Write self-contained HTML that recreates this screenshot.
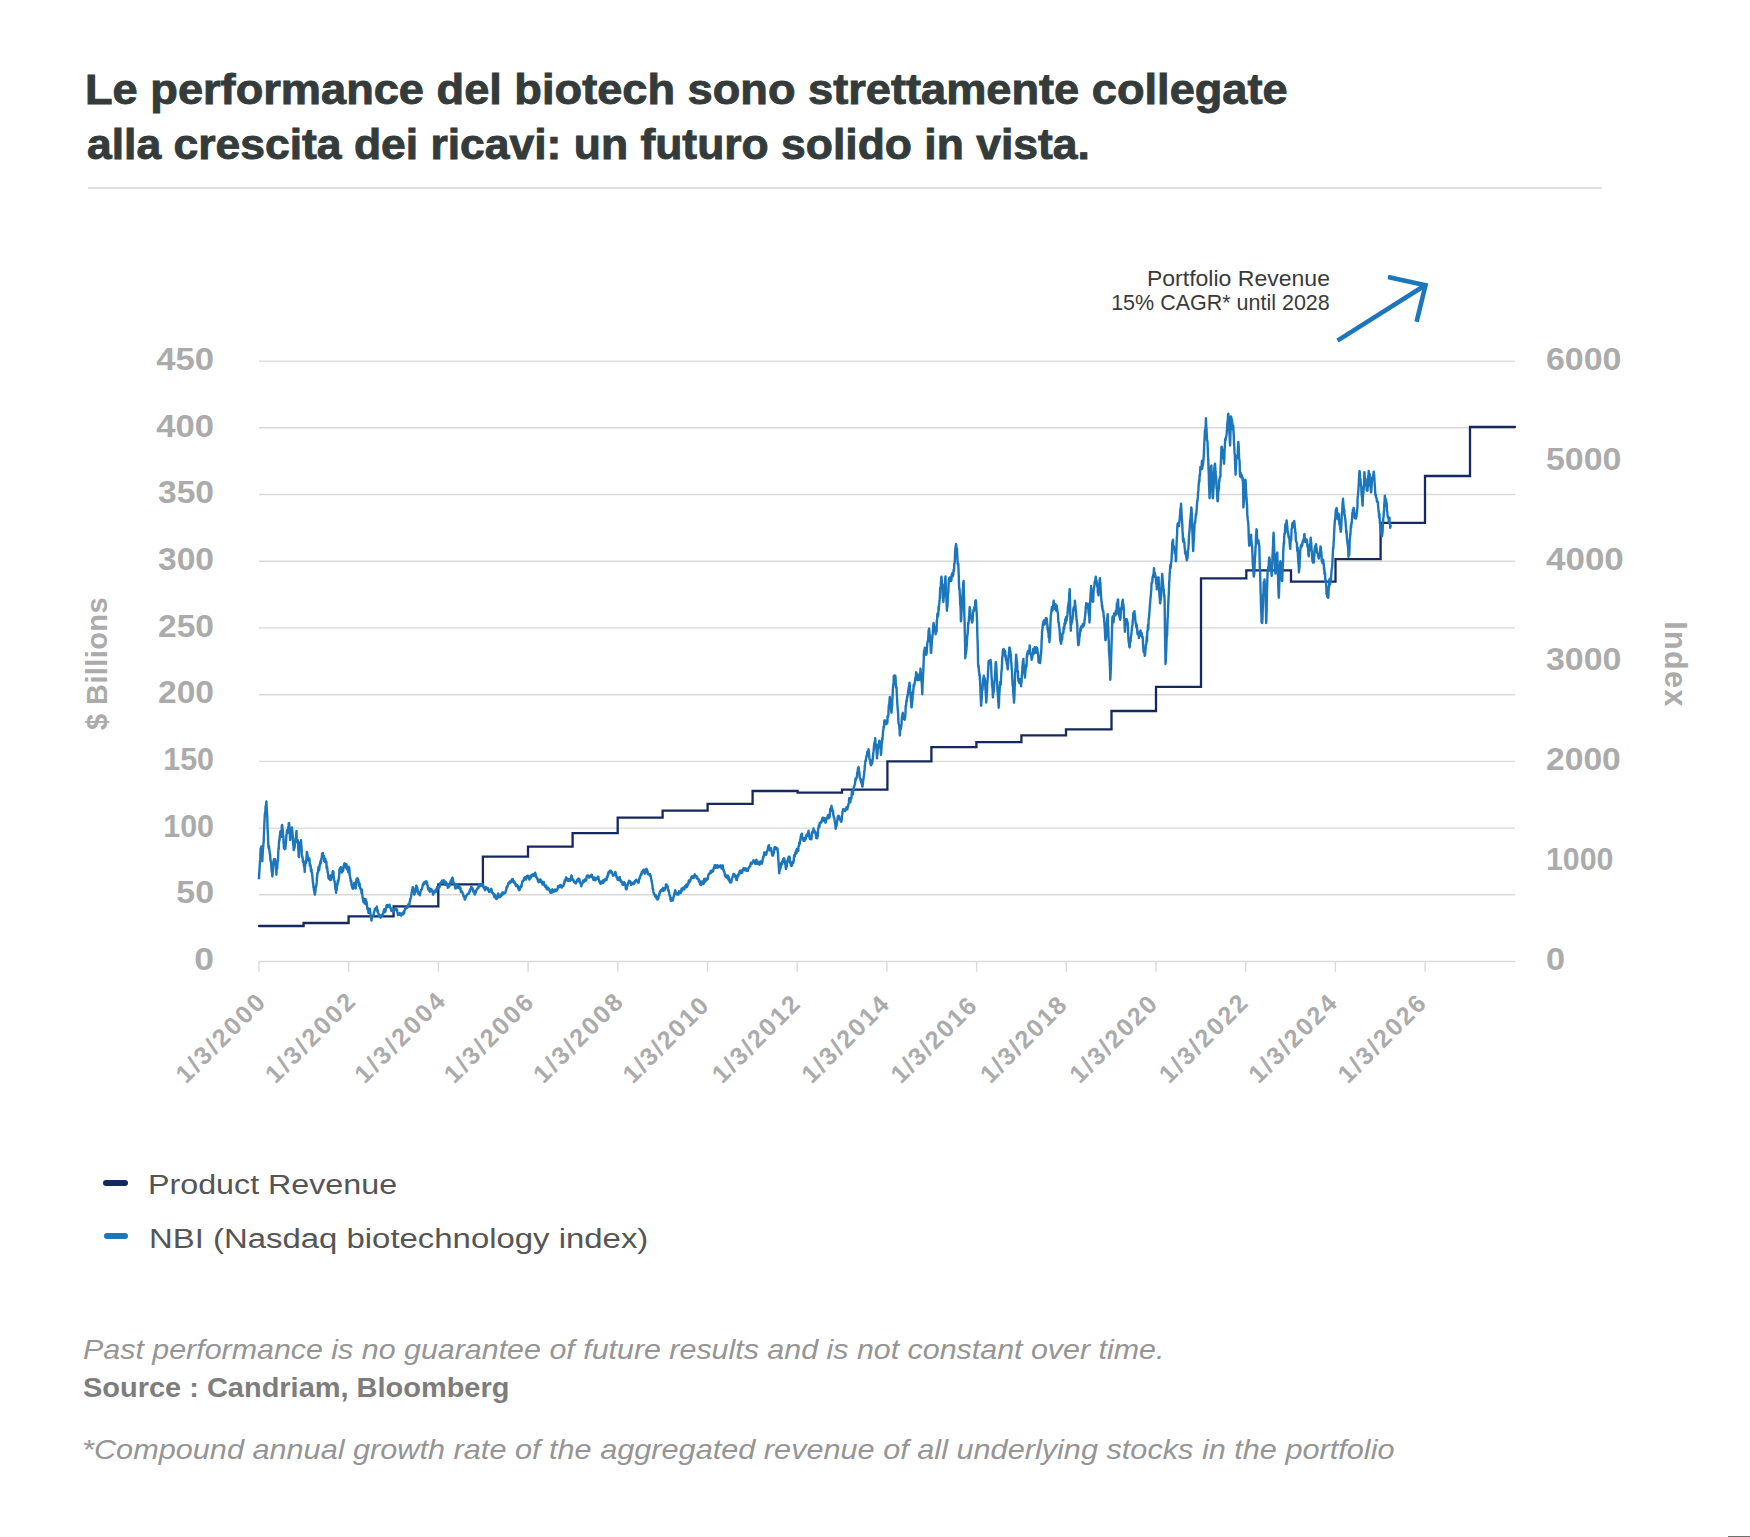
<!DOCTYPE html>
<html><head><meta charset="utf-8">
<style>
html,body{margin:0;padding:0;background:#fff;}
body{width:1750px;height:1537px;position:relative;overflow:hidden;font-family:"Liberation Sans",sans-serif;}
.t{position:absolute;white-space:nowrap;line-height:1;}
.rule{position:absolute;left:88px;top:187px;width:1514px;height:1.5px;background:#dedede;}
.mk{position:absolute;width:25px;height:6px;border-radius:3px;}
</style></head><body>
<div class="rule"></div>
<svg width="1750" height="1537" viewBox="0 0 1750 1537" style="position:absolute;left:0;top:0">
<line x1="259" y1="361.1" x2="1515" y2="361.1" stroke="#d9d9d9" stroke-width="1.4"/>
<line x1="259" y1="427.8" x2="1515" y2="427.8" stroke="#d9d9d9" stroke-width="1.4"/>
<line x1="259" y1="494.5" x2="1515" y2="494.5" stroke="#d9d9d9" stroke-width="1.4"/>
<line x1="259" y1="561.2" x2="1515" y2="561.2" stroke="#d9d9d9" stroke-width="1.4"/>
<line x1="259" y1="627.9" x2="1515" y2="627.9" stroke="#d9d9d9" stroke-width="1.4"/>
<line x1="259" y1="694.7" x2="1515" y2="694.7" stroke="#d9d9d9" stroke-width="1.4"/>
<line x1="259" y1="761.4" x2="1515" y2="761.4" stroke="#d9d9d9" stroke-width="1.4"/>
<line x1="259" y1="828.1" x2="1515" y2="828.1" stroke="#d9d9d9" stroke-width="1.4"/>
<line x1="259" y1="894.8" x2="1515" y2="894.8" stroke="#d9d9d9" stroke-width="1.4"/>
<line x1="259" y1="961.5" x2="1515" y2="961.5" stroke="#d9d9d9" stroke-width="1.4"/>
<line x1="259.0" y1="961.5" x2="259.0" y2="971.8" stroke="#d9d9d9" stroke-width="1.4"/>
<line x1="348.7" y1="961.5" x2="348.7" y2="971.8" stroke="#d9d9d9" stroke-width="1.4"/>
<line x1="438.4" y1="961.5" x2="438.4" y2="971.8" stroke="#d9d9d9" stroke-width="1.4"/>
<line x1="528.1" y1="961.5" x2="528.1" y2="971.8" stroke="#d9d9d9" stroke-width="1.4"/>
<line x1="617.8" y1="961.5" x2="617.8" y2="971.8" stroke="#d9d9d9" stroke-width="1.4"/>
<line x1="707.5" y1="961.5" x2="707.5" y2="971.8" stroke="#d9d9d9" stroke-width="1.4"/>
<line x1="797.2" y1="961.5" x2="797.2" y2="971.8" stroke="#d9d9d9" stroke-width="1.4"/>
<line x1="886.9" y1="961.5" x2="886.9" y2="971.8" stroke="#d9d9d9" stroke-width="1.4"/>
<line x1="976.6" y1="961.5" x2="976.6" y2="971.8" stroke="#d9d9d9" stroke-width="1.4"/>
<line x1="1066.3" y1="961.5" x2="1066.3" y2="971.8" stroke="#d9d9d9" stroke-width="1.4"/>
<line x1="1156.0" y1="961.5" x2="1156.0" y2="971.8" stroke="#d9d9d9" stroke-width="1.4"/>
<line x1="1245.7" y1="961.5" x2="1245.7" y2="971.8" stroke="#d9d9d9" stroke-width="1.4"/>
<line x1="1335.4" y1="961.5" x2="1335.4" y2="971.8" stroke="#d9d9d9" stroke-width="1.4"/>
<line x1="1425.1" y1="961.5" x2="1425.1" y2="971.8" stroke="#d9d9d9" stroke-width="1.4"/>
<g font-family="Liberation Sans" font-weight="bold" font-size="31.5" fill="#ababab">
<text x="214.0" y="970.0" text-anchor="end" textLength="19.7" lengthAdjust="spacingAndGlyphs">0</text>
<text x="214.0" y="903.3" text-anchor="end" textLength="37.7" lengthAdjust="spacingAndGlyphs">50</text>
<text x="214.0" y="836.7" text-anchor="end" textLength="50.7" lengthAdjust="spacingAndGlyphs">100</text>
<text x="214.0" y="770.0" text-anchor="end" textLength="50.7" lengthAdjust="spacingAndGlyphs">150</text>
<text x="214.0" y="703.3" text-anchor="end" textLength="56.0" lengthAdjust="spacingAndGlyphs">200</text>
<text x="214.0" y="636.7" text-anchor="end" textLength="56.0" lengthAdjust="spacingAndGlyphs">250</text>
<text x="214.0" y="570.0" text-anchor="end" textLength="56.0" lengthAdjust="spacingAndGlyphs">300</text>
<text x="214.0" y="503.3" text-anchor="end" textLength="56.0" lengthAdjust="spacingAndGlyphs">350</text>
<text x="214.0" y="436.7" text-anchor="end" textLength="57.8" lengthAdjust="spacingAndGlyphs">400</text>
<text x="214.0" y="370.0" text-anchor="end" textLength="57.8" lengthAdjust="spacingAndGlyphs">450</text>
<text x="1546.0" y="970.0" textLength="19.1" lengthAdjust="spacingAndGlyphs">0</text>
<text x="1546.0" y="870.0" textLength="67.5" lengthAdjust="spacingAndGlyphs">1000</text>
<text x="1546.0" y="770.0" textLength="74.8" lengthAdjust="spacingAndGlyphs">2000</text>
<text x="1546.0" y="670.0" textLength="75.4" lengthAdjust="spacingAndGlyphs">3000</text>
<text x="1546.0" y="570.0" textLength="77.8" lengthAdjust="spacingAndGlyphs">4000</text>
<text x="1546.0" y="470.0" textLength="75.4" lengthAdjust="spacingAndGlyphs">5000</text>
<text x="1546.0" y="370.0" textLength="75.4" lengthAdjust="spacingAndGlyphs">6000</text>
</g>
<text font-family="Liberation Sans" font-weight="bold" font-size="29" fill="#ababab" letter-spacing="0.4" text-anchor="middle" transform="translate(106.6 663.5) rotate(-90)">$ Billions</text>
<text font-family="Liberation Sans" font-weight="bold" font-size="30.5" fill="#ababab" letter-spacing="1.4" text-anchor="middle" transform="translate(1665 664.5) rotate(90)">Index</text>
<g font-family="Liberation Sans" font-weight="bold" font-size="25" fill="#ababab">
<text transform="translate(186.07 1084.60) rotate(-45)" textLength="113.70" lengthAdjust="spacing">1/3/2000</text>
<text transform="translate(275.45 1084.60) rotate(-45)" textLength="114.69" lengthAdjust="spacing">1/3/2002</text>
<text transform="translate(364.83 1084.60) rotate(-45)" textLength="115.68" lengthAdjust="spacing">1/3/2004</text>
<text transform="translate(454.21 1084.60) rotate(-45)" textLength="113.85" lengthAdjust="spacing">1/3/2006</text>
<text transform="translate(543.59 1084.60) rotate(-45)" textLength="114.13" lengthAdjust="spacing">1/3/2008</text>
<text transform="translate(632.97 1084.60) rotate(-45)" textLength="109.04" lengthAdjust="spacing">1/3/2010</text>
<text transform="translate(722.35 1084.60) rotate(-45)" textLength="111.58" lengthAdjust="spacing">1/3/2012</text>
<text transform="translate(811.73 1084.60) rotate(-45)" textLength="111.02" lengthAdjust="spacing">1/3/2014</text>
<text transform="translate(901.11 1084.60) rotate(-45)" textLength="108.75" lengthAdjust="spacing">1/3/2016</text>
<text transform="translate(990.49 1084.60) rotate(-45)" textLength="109.89" lengthAdjust="spacing">1/3/2018</text>
<text transform="translate(1079.87 1084.60) rotate(-45)" textLength="111.44" lengthAdjust="spacing">1/3/2020</text>
<text transform="translate(1169.25 1084.60) rotate(-45)" textLength="113.00" lengthAdjust="spacing">1/3/2022</text>
<text transform="translate(1258.63 1084.60) rotate(-45)" textLength="112.71" lengthAdjust="spacing">1/3/2024</text>
<text transform="translate(1348.01 1084.60) rotate(-45)" textLength="112.29" lengthAdjust="spacing">1/3/2026</text>
</g>
<path d="M259.0 926.0 H303.6 V923.0 H348.6 V916.4 H393.6 V906.4 H438.3 V884.3 H482.9 V856.7 H528.0 V846.7 H572.6 V833.1 H617.7 V817.6 H662.6 V810.7 H707.6 V803.8 H752.6 V791.0 H797.6 V792.7 H842.0 V789.7 H887.4 V761.4 H931.4 V747.2 H976.4 V742.1 H1021.4 V735.3 H1066.0 V729.4 H1111.5 V711.0 H1156.0 V686.8 H1201.0 V578.4 H1246.3 V570.3 H1291.0 V581.7 H1335.5 V559.2 H1380.6 V522.8 H1425.0 V476.0 H1470.0 V427.0 H1515.0 V427.0" fill="none" stroke="#16295c" stroke-width="2.3" stroke-linejoin="miter" stroke-linecap="round"/>
<path d="M258.9 879.3L259.2 874.2L259.5 869.0L259.7 866.4L260.0 861.1L260.3 859.4L260.6 848.5L260.8 849.7L261.1 848.8L261.4 846.5L261.6 847.9L261.8 854.8L262.1 858.7L262.3 861.1L262.6 855.5L262.8 851.0L263.1 848.1L263.4 844.5L263.7 841.0L263.9 835.2L264.1 830.7L264.3 825.1L264.6 819.2L264.8 814.9L265.1 812.9L265.4 811.2L265.6 806.3L265.9 807.9L266.1 803.4L266.4 801.4L266.6 806.8L266.9 810.8L267.1 814.4L267.3 817.3L267.5 828.3L267.8 831.7L268.0 835.5L268.2 842.8L268.5 847.3L268.8 848.5L269.0 846.1L269.3 849.8L269.6 851.9L269.9 854.4L270.1 854.3L270.4 859.5L270.7 861.7L271.0 861.1L271.2 863.4L271.5 869.5L271.8 872.0L272.0 871.1L272.3 876.5L272.6 874.0L272.9 871.2L273.1 863.8L273.4 864.7L273.7 861.1L274.0 859.2L274.2 862.0L274.5 863.7L274.8 861.0L275.1 859.2L275.3 862.5L275.6 865.4L275.9 868.1L276.1 869.8L276.4 874.7L276.7 868.2L276.9 867.2L277.2 868.5L277.5 862.6L277.7 860.7L278.0 860.9L278.2 853.8L278.5 848.1L278.8 848.8L279.0 841.0L279.3 839.5L279.5 840.5L279.8 835.5L280.1 835.5L280.3 831.4L280.6 834.9L280.8 832.9L281.1 833.8L281.3 836.9L281.6 832.9L281.8 825.5L282.1 824.9L282.3 826.4L282.6 830.3L282.8 830.1L283.1 834.7L283.4 836.6L283.6 842.3L283.9 847.5L284.1 848.2L284.4 846.7L284.6 849.2L284.9 846.3L285.1 848.1L285.4 848.6L285.7 844.6L285.9 843.2L286.2 838.6L286.4 835.5L286.7 833.9L286.9 830.7L287.2 830.1L287.5 833.0L287.7 831.1L288.0 830.0L288.2 827.6L288.5 825.9L288.7 823.7L289.0 823.1L289.3 824.4L289.5 829.0L289.8 832.7L290.1 840.1L290.3 839.9L290.6 835.9L290.9 835.2L291.1 833.7L291.4 832.4L291.6 829.8L291.9 827.4L292.2 829.8L292.4 833.0L292.7 835.7L292.9 837.3L293.2 844.6L293.5 845.2L293.7 850.1L294.0 844.2L294.2 848.6L294.5 847.4L294.7 846.6L295.0 841.3L295.2 842.8L295.5 840.0L295.7 838.3L296.0 841.6L296.2 833.1L296.5 831.0L296.7 838.4L297.0 842.1L297.2 840.8L297.5 839.7L297.7 840.4L298.0 842.2L298.2 848.2L298.5 851.9L298.7 856.5L299.0 857.1L299.2 849.9L299.5 846.0L299.8 850.3L300.0 845.5L300.3 842.1L300.5 843.7L300.8 842.6L301.0 840.1L301.3 844.9L301.6 847.8L301.8 853.4L302.1 856.3L302.4 857.4L302.6 857.2L302.9 862.1L303.1 860.8L303.4 861.5L303.6 861.5L303.9 865.6L304.2 867.1L304.4 865.6L304.7 872.0L304.9 867.7L305.2 865.5L305.4 861.9L305.7 862.8L305.9 861.1L306.2 862.9L306.4 858.2L306.7 854.5L306.9 851.9L307.2 852.6L307.4 854.7L307.7 857.4L307.9 856.8L308.2 857.3L308.4 859.0L308.7 860.8L308.9 859.6L309.2 861.4L309.4 858.4L309.7 862.9L309.9 865.8L310.2 864.5L310.4 865.0L310.7 866.3L310.9 869.5L311.2 871.6L311.4 869.3L311.7 871.3L311.9 872.0L312.2 875.0L312.4 876.5L312.7 879.8L312.9 882.7L313.2 882.8L313.4 887.4L313.7 887.3L313.9 889.9L314.2 891.1L314.4 889.9L314.7 893.9L314.9 894.6L315.2 892.6L315.4 891.7L315.7 886.4L315.9 887.3L316.2 886.3L316.4 885.0L316.7 882.9L316.9 877.6L317.2 876.4L317.4 872.9L317.7 872.6L317.9 873.0L318.2 869.4L318.5 867.0L318.7 868.6L319.0 869.2L319.2 870.2L319.5 866.2L319.7 864.4L320.0 865.1L320.2 863.0L320.5 861.3L320.8 862.3L321.0 863.0L321.3 859.5L321.5 858.3L321.8 857.9L322.1 853.6L322.3 856.9L322.6 855.3L322.9 852.9L323.2 856.6L323.4 857.2L323.7 857.0L324.0 856.0L324.2 861.1L324.5 859.8L324.8 859.6L325.1 862.0L325.3 858.7L325.6 862.0L325.9 861.4L326.1 861.3L326.4 861.9L326.6 867.6L326.9 868.8L327.1 866.8L327.4 869.9L327.6 871.8L327.8 873.0L328.1 873.3L328.3 876.5L328.6 878.6L328.9 878.7L329.1 877.8L329.4 879.3L329.6 878.8L329.9 877.2L330.2 879.3L330.4 880.1L330.7 875.4L330.9 878.2L331.2 879.9L331.4 875.4L331.7 875.1L331.9 877.1L332.2 876.5L332.4 874.2L332.7 871.4L332.9 871.1L333.1 871.2L333.4 871.9L333.6 875.8L333.9 877.9L334.1 879.4L334.4 880.8L334.6 881.7L334.9 883.4L335.1 885.2L335.4 889.2L335.6 887.0L335.8 890.2L336.1 892.9L336.3 888.9L336.6 890.0L336.8 888.6L337.1 883.8L337.3 885.2L337.6 883.8L337.8 880.8L338.1 882.3L338.3 881.9L338.5 879.5L338.8 879.0L339.0 876.8L339.3 873.8L339.5 869.1L339.8 869.9L340.0 868.1L340.3 868.1L340.5 869.6L340.8 867.1L341.0 867.8L341.3 869.8L341.5 870.0L341.8 872.5L342.0 871.1L342.3 868.6L342.5 867.9L342.7 870.4L343.0 871.1L343.2 870.6L343.5 867.7L343.7 865.6L344.0 865.0L344.2 863.8L344.5 863.3L344.7 866.2L345.0 865.6L345.2 864.7L345.5 865.8L345.7 866.0L346.0 867.8L346.2 864.1L346.5 864.4L346.7 866.4L347.0 869.5L347.2 869.1L347.5 868.3L347.7 867.5L348.0 868.9L348.2 872.3L348.5 868.1L348.7 866.7L349.0 867.6L349.2 867.7L349.5 870.5L349.7 875.2L350.0 876.2L350.2 878.4L350.5 878.3L350.7 881.5L351.0 880.9L351.2 880.3L351.5 884.4L351.7 885.1L351.9 886.3L352.2 887.7L352.4 886.9L352.7 886.1L352.9 888.8L353.2 888.4L353.5 887.8L353.7 887.0L354.0 883.3L354.2 884.4L354.5 883.0L354.8 883.8L355.0 885.3L355.3 886.8L355.5 886.7L355.7 888.6L356.0 884.3L356.2 881.9L356.5 879.0L356.7 878.8L357.0 878.9L357.2 878.5L357.5 878.2L357.7 881.5L358.0 879.3L358.2 879.6L358.5 881.5L358.7 883.6L359.0 885.8L359.2 882.6L359.5 883.6L359.7 884.6L360.0 887.0L360.2 888.4L360.5 888.1L360.7 889.2L361.0 889.1L361.2 890.2L361.5 893.2L361.7 890.1L362.0 889.5L362.2 894.0L362.5 895.9L362.7 898.3L363.0 898.4L363.2 900.3L363.5 902.1L363.7 900.6L364.0 899.8L364.2 898.9L364.5 903.5L364.7 901.6L365.0 902.1L365.2 901.9L365.4 902.0L365.7 899.3L365.9 900.8L366.2 904.6L366.4 905.0L366.7 902.2L366.9 903.8L367.2 907.4L367.4 909.2L367.6 909.3L367.9 908.2L368.1 909.2L368.4 912.9L368.6 911.3L368.9 911.4L369.1 912.6L369.3 912.1L369.6 909.2L369.8 908.7L370.0 910.2L370.2 912.6L370.5 914.0L370.7 915.6L371.0 917.9L371.2 918.5L371.5 920.6L371.8 917.8L372.0 918.1L372.3 916.6L372.5 916.3L372.8 916.3L373.1 915.4L373.3 915.4L373.6 915.7L373.9 912.3L374.1 912.1L374.4 911.3L374.6 910.8L374.9 909.0L375.1 909.6L375.4 908.6L375.7 908.3L375.9 907.9L376.2 907.7L376.4 908.7L376.7 907.2L376.9 906.6L377.2 909.8L377.4 911.9L377.7 911.0L377.9 910.3L378.2 912.4L378.4 913.5L378.7 913.9L378.9 915.1L379.2 916.0L379.4 915.1L379.7 916.5L379.9 915.9L380.2 915.7L380.4 916.7L380.6 917.9L380.9 915.1L381.1 916.9L381.4 915.3L381.6 916.0L381.9 914.9L382.1 915.8L382.4 915.1L382.6 914.7L382.9 913.6L383.1 913.5L383.4 913.4L383.6 910.8L383.9 910.5L384.1 909.5L384.4 909.3L384.6 910.0L384.9 910.9L385.1 912.1L385.4 910.6L385.6 911.1L385.9 908.0L386.1 908.2L386.4 906.6L386.6 905.3L386.9 906.7L387.2 905.7L387.4 905.9L387.7 905.1L387.9 906.8L388.2 906.3L388.4 905.4L388.7 905.9L388.9 905.3L389.2 905.9L389.5 904.6L389.7 906.7L390.0 906.6L390.2 907.3L390.5 907.6L390.8 909.1L391.0 909.4L391.3 910.9L391.5 909.4L391.8 909.4L392.0 910.3L392.3 910.7L392.5 910.1L392.8 910.7L393.0 912.1L393.3 909.5L393.5 911.4L393.8 909.3L394.0 910.2L394.3 909.7L394.5 908.7L394.8 909.7L395.0 908.6L395.3 910.1L395.5 908.9L395.8 908.9L396.0 908.8L396.3 909.6L396.5 909.3L396.7 909.1L397.0 910.3L397.2 910.3L397.5 913.5L397.7 913.5L398.0 915.1L398.2 913.9L398.5 913.5L398.7 914.6L399.0 914.9L399.2 914.9L399.5 913.4L399.7 913.1L400.0 913.9L400.2 914.0L400.5 915.0L400.7 914.8L401.0 914.9L401.2 915.6L401.5 913.7L401.7 913.6L401.9 913.9L402.2 913.9L402.4 913.4L402.7 912.7L402.9 914.6L403.2 913.2L403.4 914.1L403.7 912.7L403.9 911.2L404.2 913.1L404.4 910.5L404.7 910.3L404.9 909.4L405.2 907.9L405.4 907.6L405.7 907.7L405.9 908.2L406.2 908.4L406.4 907.1L406.7 907.5L406.9 907.4L407.1 907.9L407.4 907.3L407.6 907.5L407.9 906.8L408.1 904.5L408.4 904.9L408.6 904.6L408.9 903.9L409.1 904.1L409.4 904.9L409.6 902.5L409.9 900.7L410.1 900.5L410.4 898.6L410.6 898.7L410.9 897.5L411.2 895.4L411.4 893.9L411.7 892.3L411.9 891.2L412.2 889.0L412.5 888.5L412.7 887.1L413.0 888.4L413.2 888.4L413.5 891.6L413.7 891.5L414.0 892.0L414.2 894.6L414.5 894.1L414.7 893.7L414.9 890.8L415.2 892.1L415.4 891.0L415.7 887.9L416.0 886.8L416.2 885.7L416.5 885.6L416.8 887.6L417.0 887.8L417.3 887.4L417.5 890.1L417.8 891.4L418.0 893.4L418.3 893.3L418.5 892.9L418.8 892.4L419.0 894.0L419.3 894.3L419.5 893.9L419.8 895.3L420.0 893.8L420.3 893.5L420.5 891.6L420.8 890.9L421.0 890.1L421.3 889.9L421.5 889.3L421.8 889.4L422.0 888.6L422.3 887.3L422.5 886.6L422.7 884.8L423.0 885.2L423.2 883.8L423.5 884.3L423.7 883.1L424.0 882.6L424.2 883.1L424.5 884.1L424.7 883.2L425.0 881.9L425.2 882.3L425.5 881.6L425.7 882.4L426.0 882.5L426.2 881.2L426.5 882.4L426.7 883.1L427.0 882.4L427.2 884.6L427.5 884.7L427.7 886.2L427.9 887.9L428.2 889.3L428.4 887.9L428.7 890.4L428.9 889.7L429.2 889.2L429.4 888.1L429.7 889.6L429.9 891.8L430.2 890.1L430.4 891.3L430.7 890.3L430.9 889.1L431.2 889.4L431.4 889.1L431.7 891.2L431.9 890.5L432.2 890.2L432.4 891.7L432.7 891.8L432.9 894.5L433.2 894.6L433.4 893.8L433.6 892.0L433.9 891.5L434.1 892.0L434.4 891.6L434.6 892.0L434.9 892.1L435.1 892.2L435.4 891.6L435.6 890.0L435.9 891.8L436.1 891.7L436.4 889.6L436.6 888.4L436.9 889.1L437.1 886.9L437.4 888.1L437.6 887.2L437.9 887.5L438.1 887.5L438.4 888.6L438.6 888.0L438.8 887.4L439.1 886.7L439.3 886.4L439.6 887.2L439.8 885.8L440.1 883.4L440.3 883.2L440.6 882.7L440.8 882.7L441.1 882.3L441.3 881.8L441.6 882.5L441.8 881.4L442.1 880.6L442.3 882.5L442.6 880.9L442.8 881.0L443.1 881.6L443.3 882.0L443.6 880.5L443.8 880.2L444.0 881.1L444.3 883.0L444.5 881.0L444.8 883.3L445.0 883.4L445.3 885.0L445.5 883.7L445.8 883.7L446.0 883.1L446.3 882.3L446.5 883.8L446.8 883.8L447.0 884.4L447.3 884.1L447.5 885.8L447.8 887.7L448.0 887.1L448.3 887.4L448.5 887.4L448.8 886.1L449.0 884.1L449.2 885.6L449.5 886.0L449.7 884.5L450.0 883.2L450.2 883.1L450.5 881.8L450.7 881.1L451.0 880.9L451.2 882.1L451.5 879.4L451.7 878.9L452.0 879.8L452.2 878.2L452.5 877.5L452.7 878.1L453.0 879.3L453.2 881.4L453.5 882.0L453.7 882.9L454.0 883.4L454.2 882.9L454.4 884.7L454.7 884.5L454.9 886.8L455.2 887.7L455.4 888.5L455.7 888.3L455.9 888.1L456.2 887.2L456.4 887.5L456.7 888.1L456.9 887.1L457.2 886.0L457.4 884.4L457.7 886.4L457.9 885.5L458.2 887.0L458.4 886.8L458.7 886.5L458.9 888.1L459.2 887.1L459.4 886.5L459.6 887.1L459.9 889.0L460.1 887.5L460.4 887.6L460.6 890.1L460.9 891.7L461.1 891.1L461.4 892.3L461.6 891.2L461.9 891.7L462.1 891.6L462.4 892.7L462.6 893.0L462.9 893.5L463.1 894.2L463.4 896.1L463.6 895.7L463.9 896.3L464.1 897.4L464.4 896.5L464.6 898.2L464.8 899.6L465.1 899.0L465.3 898.6L465.6 897.8L465.8 897.1L466.1 895.7L466.3 896.0L466.6 895.4L466.8 895.6L467.1 894.8L467.3 894.6L467.6 893.8L467.8 893.7L468.1 894.0L468.3 893.5L468.6 893.4L468.8 893.7L469.1 893.1L469.3 892.8L469.6 890.7L469.8 890.1L470.0 891.3L470.3 889.4L470.5 889.0L470.8 889.3L471.0 887.9L471.3 886.6L471.5 887.8L471.8 888.4L472.0 888.9L472.3 889.5L472.5 888.0L472.8 889.0L473.0 890.1L473.3 891.9L473.5 890.9L473.8 891.1L474.0 891.8L474.3 892.3L474.5 893.8L474.8 894.6L475.0 894.2L475.3 893.4L475.5 890.7L475.7 892.8L476.0 891.4L476.2 890.1L476.5 890.4L476.7 890.3L477.0 889.2L477.2 888.6L477.5 888.3L477.7 888.6L478.0 887.6L478.2 887.8L478.5 887.8L478.7 886.1L479.0 884.2L479.2 886.2L479.5 886.2L479.7 885.7L480.0 885.5L480.2 886.1L480.5 883.9L480.7 884.8L480.9 886.0L481.2 885.9L481.4 884.6L481.7 885.6L481.9 884.6L482.2 884.9L482.4 883.9L482.7 884.5L482.9 884.4L483.2 885.3L483.4 887.3L483.7 887.1L483.9 888.4L484.2 887.9L484.5 888.4L484.7 888.4L485.0 890.2L485.2 888.0L485.5 887.0L485.7 887.1L486.0 888.0L486.2 887.7L486.5 888.0L486.7 887.5L487.0 888.1L487.2 888.6L487.5 888.3L487.7 889.9L488.0 888.1L488.2 889.2L488.5 889.9L488.7 890.9L489.0 892.0L489.2 890.4L489.5 890.5L489.7 891.7L490.0 890.0L490.2 890.5L490.5 890.4L490.8 890.1L491.0 889.1L491.2 888.8L491.5 889.1L491.8 890.9L492.0 892.3L492.2 892.6L492.5 893.3L492.8 893.0L493.0 892.7L493.2 893.2L493.5 894.4L493.8 894.7L494.0 895.7L494.2 896.8L494.5 895.2L494.8 894.5L495.0 896.4L495.2 896.0L495.5 897.9L495.7 898.1L496.0 898.7L496.2 898.4L496.5 898.0L496.7 899.0L497.0 898.6L497.2 897.2L497.5 895.1L497.7 895.8L498.0 895.4L498.2 893.4L498.5 897.4L498.7 897.0L499.0 895.9L499.2 897.0L499.5 897.2L499.7 897.1L499.9 895.4L500.2 897.0L500.4 894.9L500.7 894.5L500.9 895.0L501.2 896.2L501.4 894.3L501.7 894.1L501.9 894.6L502.2 894.8L502.4 892.4L502.7 892.5L503.0 892.4L503.2 894.2L503.5 892.6L503.7 893.1L504.0 893.4L504.2 893.5L504.5 892.6L504.7 892.5L505.0 892.9L505.3 892.8L505.5 892.1L505.8 891.2L506.0 890.0L506.3 889.8L506.5 887.4L506.8 887.8L507.0 886.4L507.3 887.2L507.6 885.6L507.8 885.7L508.1 884.1L508.3 883.5L508.6 882.9L508.8 883.2L509.1 883.4L509.3 882.2L509.6 882.8L509.8 881.5L510.1 882.9L510.3 882.1L510.6 882.5L510.8 881.3L511.1 882.2L511.3 880.8L511.6 880.6L511.8 879.5L512.0 881.0L512.3 879.0L512.5 880.5L512.8 879.1L513.0 881.4L513.3 881.1L513.5 882.2L513.8 882.7L514.0 881.5L514.3 881.4L514.5 882.9L514.8 882.8L515.0 882.8L515.3 883.7L515.5 884.7L515.8 885.1L516.1 886.1L516.3 884.4L516.6 885.1L516.8 886.2L517.1 886.2L517.3 885.1L517.6 886.6L517.8 885.9L518.1 886.6L518.3 889.0L518.6 888.6L518.8 889.7L519.1 890.2L519.3 889.2L519.6 889.6L519.8 889.7L520.1 886.6L520.3 887.8L520.6 887.7L520.8 886.6L521.1 885.5L521.3 887.0L521.6 886.3L521.8 883.9L522.1 882.9L522.4 881.6L522.6 880.7L522.9 881.4L523.1 881.0L523.3 881.0L523.6 880.2L523.8 880.3L524.1 880.0L524.3 878.0L524.6 879.2L524.8 878.5L525.1 877.1L525.3 877.7L525.6 878.4L525.8 879.0L526.1 879.5L526.3 877.3L526.6 878.2L526.8 876.0L527.0 876.3L527.3 875.8L527.5 877.0L527.8 875.7L528.0 876.3L528.3 877.0L528.5 877.5L528.8 876.7L529.0 877.8L529.3 879.5L529.5 877.6L529.8 877.8L530.0 878.6L530.2 878.6L530.5 876.0L530.7 877.5L531.0 877.5L531.2 876.7L531.5 876.6L531.7 874.8L532.0 874.7L532.2 875.5L532.5 874.8L532.7 875.1L533.0 875.6L533.2 874.0L533.5 875.9L533.7 875.4L534.0 874.6L534.2 875.4L534.5 874.2L534.7 875.8L535.0 874.4L535.2 872.6L535.5 874.3L535.7 874.3L536.0 877.0L536.2 876.3L536.5 876.8L536.7 878.2L537.0 878.3L537.2 878.1L537.5 879.4L537.7 879.2L538.0 881.1L538.2 881.2L538.5 881.5L538.7 882.4L539.0 880.4L539.2 880.2L539.5 879.8L539.7 881.5L540.0 880.0L540.2 880.6L540.5 879.5L540.7 879.9L541.0 882.1L541.2 882.0L541.5 882.7L541.7 881.1L542.0 883.0L542.2 883.3L542.5 884.6L542.7 883.3L543.0 882.1L543.2 883.6L543.5 882.0L543.7 883.8L544.0 882.3L544.2 883.9L544.5 885.5L544.7 885.6L545.0 886.6L545.2 886.0L545.5 885.8L545.7 887.1L546.0 885.6L546.2 885.5L546.5 887.9L546.7 889.2L546.9 887.9L547.2 888.6L547.4 889.3L547.7 888.8L547.9 889.1L548.2 887.7L548.4 888.4L548.7 889.2L548.9 889.7L549.2 889.1L549.4 889.6L549.7 890.6L549.9 889.9L550.1 890.2L550.4 892.8L550.6 891.8L550.9 892.7L551.1 892.3L551.4 891.3L551.6 890.6L551.9 892.7L552.1 890.7L552.4 889.3L552.6 891.2L552.9 890.7L553.1 890.2L553.3 890.5L553.6 890.4L553.8 891.7L554.1 891.1L554.3 890.0L554.6 890.3L554.8 890.4L555.1 889.6L555.3 890.3L555.6 890.3L555.8 891.3L556.1 889.7L556.3 889.7L556.6 889.6L556.8 890.5L557.0 889.1L557.3 889.8L557.5 888.9L557.8 887.5L558.0 886.1L558.3 887.4L558.5 887.0L558.8 886.6L559.0 886.8L559.3 887.1L559.5 885.5L559.8 886.4L560.0 886.4L560.2 885.4L560.5 884.9L560.7 885.9L561.0 885.3L561.2 887.3L561.5 886.9L561.7 886.4L562.0 887.6L562.2 886.6L562.5 886.6L562.7 886.5L563.0 886.0L563.2 885.5L563.5 885.8L563.7 884.3L564.0 883.0L564.2 883.8L564.5 882.1L564.7 880.1L565.0 881.7L565.2 881.0L565.5 880.6L565.7 878.6L566.0 877.8L566.2 877.3L566.5 877.9L566.7 878.8L566.9 879.8L567.2 879.3L567.4 879.7L567.7 880.6L567.9 879.1L568.2 880.9L568.4 880.4L568.7 879.3L568.9 879.0L569.2 880.4L569.4 879.1L569.7 879.2L569.9 880.1L570.1 880.9L570.4 880.4L570.6 879.0L570.9 878.4L571.1 877.2L571.4 875.5L571.6 877.0L571.9 875.9L572.1 878.8L572.4 878.7L572.6 880.0L572.9 880.0L573.1 880.2L573.4 879.7L573.6 880.5L573.9 882.1L574.1 881.5L574.3 882.0L574.6 882.4L574.8 882.1L575.1 881.9L575.3 883.4L575.6 882.3L575.8 882.7L576.1 883.3L576.3 882.4L576.6 881.5L576.8 881.8L577.1 880.0L577.3 880.7L577.6 880.7L577.8 880.4L578.1 878.6L578.3 879.2L578.6 878.6L578.8 879.0L579.1 878.9L579.4 879.0L579.6 882.1L579.9 881.2L580.1 883.2L580.4 883.0L580.6 883.8L580.9 883.5L581.2 886.4L581.4 885.7L581.7 884.9L581.9 884.2L582.2 884.1L582.4 883.1L582.7 882.8L582.9 882.1L583.2 880.5L583.4 881.5L583.7 881.3L583.9 880.8L584.2 881.7L584.4 880.9L584.7 880.6L584.9 879.5L585.2 879.4L585.4 879.5L585.7 880.0L585.9 880.7L586.1 880.4L586.4 879.2L586.6 876.4L586.9 876.4L587.1 875.7L587.4 875.8L587.6 876.1L587.9 875.7L588.1 875.8L588.4 875.5L588.6 876.9L588.9 876.9L589.1 877.7L589.4 877.2L589.6 876.4L589.9 876.5L590.1 876.2L590.3 875.7L590.6 875.5L590.8 875.7L591.1 875.2L591.3 875.6L591.6 876.9L591.8 874.8L592.1 876.0L592.3 876.3L592.6 877.4L592.8 878.2L593.1 878.4L593.3 879.9L593.5 878.6L593.8 879.6L594.0 878.4L594.3 878.6L594.5 877.5L594.8 879.4L595.0 880.2L595.3 880.2L595.5 878.9L595.8 878.7L596.0 879.4L596.3 879.2L596.5 879.3L596.8 878.3L597.0 878.6L597.3 878.8L597.5 878.1L597.8 876.8L598.0 877.3L598.3 876.8L598.5 877.7L598.8 879.2L599.0 880.4L599.3 881.8L599.5 880.9L599.8 881.9L600.0 882.9L600.3 883.7L600.5 883.8L600.8 882.0L601.0 882.7L601.3 883.6L601.5 882.2L601.8 883.3L602.0 882.8L602.3 882.5L602.5 880.8L602.8 880.5L603.0 880.7L603.3 882.8L603.5 880.7L603.8 881.1L604.0 880.0L604.3 879.7L604.5 881.2L604.8 879.8L605.0 879.2L605.3 880.0L605.5 880.3L605.8 879.3L606.1 879.3L606.3 878.6L606.6 879.9L606.8 877.2L607.1 876.5L607.3 877.3L607.6 876.3L607.8 875.1L608.1 873.3L608.3 875.0L608.6 872.1L608.8 872.3L609.1 872.5L609.3 872.0L609.6 870.9L609.8 870.8L610.1 871.7L610.3 872.3L610.6 871.4L610.8 870.7L611.1 872.3L611.3 872.7L611.6 872.4L611.8 871.8L612.0 872.5L612.3 873.0L612.5 874.0L612.8 875.3L613.0 875.7L613.3 875.5L613.5 875.3L613.8 875.4L614.0 875.3L614.3 874.3L614.5 875.1L614.8 874.9L615.0 874.1L615.3 872.0L615.5 872.3L615.8 874.1L616.0 874.2L616.3 875.4L616.5 876.8L616.8 877.7L617.0 876.9L617.3 877.3L617.5 879.7L617.8 878.2L618.0 878.6L618.3 878.2L618.5 879.8L618.8 880.0L619.0 880.2L619.3 878.0L619.5 877.8L619.8 877.1L620.0 878.6L620.2 880.4L620.5 880.8L620.7 879.9L621.0 880.6L621.2 882.1L621.5 881.6L621.7 882.0L622.0 881.6L622.2 882.6L622.5 884.8L622.7 884.9L623.0 884.8L623.2 884.5L623.5 884.8L623.7 884.8L624.0 883.2L624.2 882.2L624.5 884.0L624.7 883.0L624.9 883.2L625.2 884.1L625.4 884.6L625.7 887.4L625.9 889.0L626.2 888.5L626.4 889.3L626.7 889.1L626.9 887.6L627.2 885.8L627.5 885.9L627.7 885.1L628.0 883.6L628.2 882.9L628.5 882.2L628.8 881.8L629.0 880.7L629.3 881.4L629.5 881.2L629.8 882.4L630.0 881.3L630.3 882.7L630.6 883.5L630.8 883.4L631.1 885.0L631.3 882.7L631.6 883.2L631.8 882.8L632.1 883.0L632.3 884.3L632.6 883.2L632.8 883.4L633.1 884.1L633.3 883.1L633.6 882.8L633.8 882.2L634.1 883.9L634.4 882.6L634.6 882.9L634.9 881.0L635.1 881.7L635.4 881.5L635.6 880.4L635.9 880.9L636.1 879.6L636.4 881.1L636.6 880.4L636.9 881.4L637.1 881.4L637.4 881.4L637.6 881.6L637.9 880.9L638.2 882.9L638.4 880.9L638.7 882.6L638.9 881.2L639.2 878.7L639.4 879.0L639.7 878.7L639.9 877.9L640.2 876.2L640.4 876.2L640.7 874.7L640.9 875.3L641.2 873.7L641.4 874.7L641.7 873.1L641.9 871.6L642.2 872.3L642.4 872.7L642.7 871.3L642.9 872.0L643.2 871.4L643.4 869.7L643.7 870.8L643.9 870.9L644.2 870.8L644.5 872.3L644.7 872.3L645.0 873.7L645.2 873.1L645.5 871.7L645.7 869.3L646.0 870.6L646.2 870.2L646.5 868.8L646.7 869.5L647.0 869.9L647.2 870.6L647.5 871.2L647.7 871.7L648.0 874.2L648.2 874.4L648.5 874.0L648.7 874.1L649.0 874.7L649.2 874.7L649.5 875.3L649.7 875.0L650.0 874.2L650.2 874.7L650.5 876.5L650.7 875.7L651.0 878.4L651.2 878.7L651.5 880.6L651.8 881.8L652.0 883.4L652.3 884.2L652.5 886.5L652.8 889.5L653.1 889.2L653.3 891.2L653.6 892.9L653.8 893.4L654.1 893.3L654.3 894.6L654.6 894.9L654.8 895.3L655.1 896.3L655.3 895.5L655.6 897.0L655.8 895.3L656.1 896.9L656.3 896.4L656.6 897.3L656.8 899.0L657.1 897.8L657.4 898.6L657.6 899.5L657.9 898.6L658.1 897.6L658.4 898.4L658.6 896.0L658.9 895.2L659.1 895.2L659.4 895.5L659.6 892.2L659.9 892.7L660.2 892.7L660.4 890.6L660.7 891.4L660.9 890.1L661.2 890.8L661.4 890.0L661.7 890.3L661.9 889.4L662.2 889.0L662.4 890.4L662.7 890.8L662.9 890.1L663.2 887.9L663.4 888.2L663.7 890.7L663.9 888.8L664.2 890.4L664.4 890.3L664.7 889.8L664.9 887.6L665.2 889.0L665.4 888.1L665.7 886.7L665.9 884.5L666.1 885.1L666.4 884.9L666.6 884.5L666.9 886.6L667.1 885.7L667.4 887.0L667.7 886.4L667.9 888.4L668.2 890.5L668.4 890.1L668.7 890.3L668.9 891.8L669.2 892.5L669.4 894.8L669.7 895.7L669.9 896.3L670.2 896.1L670.5 899.5L670.7 900.0L671.0 900.9L671.2 900.2L671.5 898.1L671.7 899.7L672.0 900.0L672.2 900.6L672.5 899.6L672.8 900.5L673.0 899.2L673.3 898.4L673.5 897.3L673.8 895.9L674.0 896.1L674.3 893.6L674.5 893.2L674.8 891.9L675.0 891.7L675.3 890.3L675.5 892.2L675.8 892.5L676.0 893.3L676.3 893.2L676.5 894.3L676.8 893.0L677.0 894.6L677.3 893.9L677.5 894.0L677.8 894.3L678.0 894.0L678.3 894.6L678.5 894.4L678.8 893.5L679.0 891.2L679.3 892.1L679.5 892.3L679.8 892.3L680.0 892.9L680.3 891.7L680.5 892.3L680.8 892.9L681.0 892.6L681.3 890.6L681.5 888.6L681.8 889.6L682.0 888.8L682.3 890.6L682.5 889.6L682.8 889.5L683.0 887.6L683.3 887.7L683.5 888.1L683.8 889.3L684.0 888.6L684.3 889.4L684.5 888.7L684.8 887.2L685.0 887.0L685.3 885.8L685.5 886.1L685.8 886.2L686.1 887.3L686.3 884.8L686.6 886.5L686.8 886.0L687.1 886.8L687.3 885.8L687.6 885.3L687.8 883.7L688.1 884.4L688.3 884.3L688.6 881.4L688.8 880.4L689.1 882.2L689.3 881.3L689.6 882.1L689.8 880.5L690.1 880.0L690.3 880.9L690.6 879.7L690.8 878.8L691.1 877.8L691.3 877.3L691.6 877.5L691.8 876.8L692.0 876.2L692.3 876.9L692.5 877.3L692.8 878.1L693.0 877.7L693.3 877.2L693.5 877.8L693.8 877.8L694.0 875.6L694.3 875.7L694.5 875.4L694.8 874.3L695.0 875.4L695.3 876.2L695.5 875.6L695.8 876.1L696.0 876.7L696.3 876.8L696.5 878.2L696.8 877.0L697.0 876.5L697.3 878.1L697.5 878.5L697.8 879.3L698.0 879.1L698.3 879.8L698.5 878.9L698.8 879.5L699.0 881.6L699.3 881.0L699.5 880.6L699.8 881.6L700.0 884.3L700.3 884.3L700.5 884.3L700.8 884.7L701.0 885.1L701.3 884.3L701.5 884.3L701.8 881.8L702.0 881.4L702.3 882.2L702.5 882.5L702.8 883.0L703.0 883.3L703.3 882.7L703.5 884.1L703.8 883.0L704.0 879.6L704.3 878.8L704.5 879.8L704.8 882.1L705.0 881.8L705.3 880.9L705.5 881.4L705.8 878.8L706.1 879.9L706.3 879.1L706.6 879.9L706.8 878.8L707.1 879.6L707.3 879.0L707.6 878.6L707.8 879.0L708.1 876.6L708.3 875.7L708.6 874.3L708.8 874.0L709.1 873.5L709.3 873.4L709.6 873.8L709.8 873.5L710.1 873.0L710.3 872.9L710.6 870.9L710.8 872.3L711.1 872.8L711.3 871.7L711.6 871.4L711.8 870.6L712.1 870.5L712.3 871.8L712.6 870.8L712.8 871.0L713.1 871.2L713.3 870.1L713.6 869.1L713.8 867.7L714.1 867.4L714.3 866.5L714.6 865.3L714.8 866.3L715.1 866.3L715.3 865.2L715.6 867.8L715.8 867.0L716.1 866.6L716.4 865.8L716.6 866.7L716.9 867.4L717.1 866.1L717.4 865.2L717.6 867.9L717.9 865.7L718.1 866.6L718.3 867.3L718.6 867.2L718.8 866.7L719.0 866.7L719.3 866.7L719.5 866.7L719.8 866.8L720.0 865.7L720.3 866.2L720.5 865.3L720.8 866.6L721.0 866.1L721.3 867.0L721.5 868.6L721.8 866.0L722.0 865.8L722.3 866.2L722.5 866.6L722.8 865.4L723.0 867.4L723.3 870.0L723.6 869.6L723.8 871.5L724.1 871.7L724.3 871.7L724.6 872.7L724.8 874.8L725.1 875.9L725.3 875.7L725.6 876.5L725.8 877.1L726.1 876.3L726.3 875.5L726.6 876.9L726.9 875.9L727.1 876.8L727.4 878.2L727.6 876.7L727.9 875.6L728.1 876.7L728.4 879.5L728.6 879.0L728.9 877.3L729.1 878.7L729.4 881.1L729.6 880.7L729.9 881.4L730.1 882.6L730.4 880.7L730.7 881.6L730.9 881.2L731.2 882.4L731.4 881.6L731.7 879.1L731.9 879.0L732.2 878.1L732.4 877.2L732.7 876.6L732.9 876.5L733.2 874.8L733.4 874.0L733.7 875.2L734.0 874.2L734.2 876.2L734.4 874.1L734.7 875.0L734.9 876.2L735.2 876.1L735.4 876.6L735.7 877.5L735.9 875.7L736.2 879.0L736.4 880.1L736.7 879.3L736.9 880.1L737.2 878.1L737.4 878.0L737.7 876.5L737.9 875.5L738.2 874.8L738.4 875.8L738.7 873.8L738.9 873.8L739.2 874.3L739.5 871.6L739.7 872.4L740.0 870.6L740.2 871.2L740.4 871.7L740.7 871.0L740.9 873.0L741.2 872.5L741.4 870.5L741.7 871.9L741.9 871.5L742.2 872.7L742.4 871.2L742.7 870.5L742.9 870.2L743.2 870.0L743.4 868.4L743.7 868.3L743.9 868.0L744.2 868.7L744.4 870.1L744.6 870.3L744.9 868.5L745.1 869.8L745.4 869.7L745.6 868.6L745.9 868.5L746.1 869.0L746.3 870.6L746.6 869.2L746.8 870.3L747.1 870.8L747.3 870.3L747.6 870.3L747.8 870.9L748.1 869.5L748.3 868.1L748.6 868.5L748.8 868.3L749.1 867.2L749.3 867.3L749.6 866.8L749.8 866.1L750.1 865.3L750.3 866.1L750.5 864.9L750.8 862.8L751.0 862.9L751.3 863.2L751.5 863.9L751.8 862.9L752.0 863.8L752.3 862.7L752.5 863.0L752.7 861.7L753.0 861.3L753.2 861.3L753.5 860.3L753.7 861.5L754.0 861.5L754.2 861.0L754.4 861.2L754.7 860.7L754.9 862.2L755.2 863.9L755.4 861.3L755.7 860.8L755.9 860.6L756.2 862.7L756.5 859.7L756.7 862.8L757.0 862.7L757.2 864.0L757.5 863.5L757.7 863.2L758.0 862.1L758.2 863.2L758.5 863.7L758.7 862.4L759.0 861.8L759.2 862.5L759.5 864.9L759.7 863.1L760.0 863.2L760.2 862.1L760.4 862.4L760.7 862.5L760.9 863.5L761.2 861.3L761.4 861.5L761.7 863.4L762.0 863.5L762.2 862.4L762.5 860.9L762.7 859.8L763.0 858.0L763.2 856.6L763.5 857.6L763.7 856.4L764.0 853.9L764.2 852.4L764.5 853.0L764.7 852.5L765.0 854.1L765.2 853.9L765.5 853.9L765.7 853.5L766.0 854.9L766.2 853.0L766.5 853.9L766.7 851.7L767.0 851.6L767.2 851.7L767.5 849.6L767.7 849.7L768.0 847.1L768.2 847.1L768.5 845.8L768.7 848.1L769.0 845.3L769.2 846.9L769.5 850.0L769.7 849.4L770.0 849.6L770.2 850.6L770.5 849.7L770.7 848.8L771.0 848.2L771.3 850.2L771.5 850.7L771.8 852.7L772.1 854.7L772.3 855.6L772.6 855.6L772.9 855.6L773.1 855.2L773.4 853.7L773.6 853.8L773.9 852.6L774.1 850.3L774.4 848.4L774.6 847.1L774.9 848.6L775.1 847.5L775.4 847.1L775.7 849.1L775.9 848.4L776.2 848.8L776.5 848.8L776.7 848.8L777.0 848.0L777.3 848.3L777.5 848.8L777.8 852.6L778.0 853.4L778.2 857.8L778.5 861.6L778.7 865.4L779.0 869.5L779.2 873.3L779.4 871.7L779.7 870.9L779.9 868.4L780.2 869.1L780.4 864.8L780.7 867.7L780.9 863.2L781.1 864.5L781.4 864.1L781.6 863.3L781.9 861.9L782.1 864.6L782.3 862.9L782.6 860.9L782.8 862.4L783.1 860.6L783.3 859.0L783.6 861.7L783.8 860.1L784.0 858.2L784.3 859.0L784.5 859.1L784.8 861.8L785.0 861.8L785.2 864.2L785.5 864.5L785.7 867.4L786.0 869.1L786.2 867.3L786.5 866.6L786.7 866.8L786.9 863.5L787.2 861.3L787.4 861.9L787.7 861.5L787.9 859.0L788.1 858.9L788.4 857.7L788.6 857.0L788.9 856.7L789.1 859.1L789.4 857.3L789.6 856.8L789.9 862.6L790.1 861.0L790.4 863.2L790.6 863.2L790.9 865.3L791.1 865.6L791.4 866.0L791.6 864.6L791.9 865.7L792.1 865.1L792.4 862.3L792.7 861.7L792.9 863.1L793.2 863.0L793.4 862.0L793.7 861.1L793.9 858.2L794.2 855.2L794.4 855.6L794.7 854.7L794.9 856.3L795.2 853.0L795.4 853.8L795.6 853.9L795.9 851.4L796.1 852.0L796.4 850.0L796.6 853.1L796.8 849.0L797.1 850.0L797.3 850.1L797.6 850.1L797.8 850.5L798.1 850.6L798.3 850.7L798.5 846.3L798.8 845.8L799.0 846.1L799.3 842.6L799.5 842.2L799.7 844.1L800.0 842.2L800.2 839.6L800.5 840.4L800.7 836.6L801.0 836.8L801.2 834.4L801.5 836.3L801.7 836.6L802.0 833.8L802.2 836.9L802.5 838.0L802.7 837.5L803.0 838.9L803.2 838.9L803.5 840.8L803.7 839.5L804.0 840.0L804.2 838.3L804.5 840.9L804.8 840.1L805.0 839.9L805.3 837.8L805.5 839.2L805.8 839.0L806.0 835.7L806.3 836.1L806.5 836.1L806.8 834.4L807.0 834.8L807.3 836.1L807.5 834.9L807.8 834.9L808.0 832.5L808.3 832.7L808.6 830.8L808.8 831.9L809.1 833.3L809.3 836.2L809.5 837.9L809.8 837.6L810.0 839.0L810.3 836.9L810.5 838.7L810.8 838.3L811.0 838.8L811.3 839.3L811.5 838.0L811.8 835.8L812.0 833.3L812.3 831.6L812.5 833.1L812.8 831.3L813.0 831.0L813.3 831.8L813.5 828.5L813.8 831.8L814.0 831.2L814.2 832.4L814.5 830.4L814.7 831.8L815.0 832.5L815.2 832.1L815.5 832.4L815.7 833.9L815.9 835.5L816.2 838.1L816.4 837.0L816.7 836.5L816.9 838.4L817.1 838.3L817.4 835.9L817.6 836.8L817.9 833.8L818.1 830.0L818.4 828.2L818.6 827.7L818.8 825.3L819.1 826.8L819.3 827.1L819.6 824.9L819.8 822.6L820.1 822.8L820.3 823.1L820.6 822.6L820.8 822.9L821.1 822.2L821.3 821.4L821.6 822.1L821.8 820.5L822.1 819.1L822.3 818.4L822.6 818.7L822.8 817.7L823.1 817.9L823.3 819.0L823.6 817.9L823.8 817.8L824.0 821.0L824.3 820.2L824.5 820.6L824.8 818.5L825.0 819.3L825.2 821.3L825.5 822.7L825.7 822.6L826.0 821.3L826.2 820.1L826.5 819.3L826.7 817.7L827.0 818.7L827.2 817.4L827.5 817.9L827.7 815.9L828.0 816.4L828.2 814.9L828.5 816.9L828.7 818.3L829.0 817.3L829.2 816.6L829.5 817.4L829.7 816.2L830.0 813.3L830.2 809.3L830.5 808.7L830.7 809.8L831.0 808.3L831.2 808.2L831.5 805.8L831.8 807.9L832.0 810.8L832.3 809.2L832.5 811.1L832.8 810.8L833.1 811.6L833.3 815.0L833.6 815.7L833.8 817.5L834.1 817.7L834.4 818.7L834.6 820.6L834.9 822.6L835.1 822.6L835.4 824.9L835.6 828.8L835.9 827.7L836.1 826.4L836.4 826.0L836.6 825.5L836.9 823.3L837.1 820.9L837.4 819.9L837.7 817.3L837.9 816.4L838.2 817.0L838.4 815.8L838.7 817.6L838.9 818.4L839.1 816.3L839.4 817.7L839.6 819.3L839.9 818.7L840.1 819.8L840.3 819.6L840.6 820.9L840.8 819.5L841.1 821.8L841.3 821.5L841.6 821.0L841.8 819.2L842.0 816.3L842.3 814.4L842.5 811.5L842.8 811.5L843.0 809.5L843.2 809.1L843.5 809.1L843.7 810.3L844.0 809.5L844.2 810.1L844.5 809.8L844.7 809.4L844.9 811.0L845.2 810.8L845.4 809.2L845.7 810.3L845.9 809.1L846.1 809.2L846.4 807.3L846.6 808.2L846.9 808.2L847.1 808.7L847.4 809.3L847.6 806.6L847.9 807.0L848.1 806.5L848.4 804.4L848.6 804.2L848.9 802.4L849.2 798.2L849.4 799.8L849.7 801.2L849.9 800.3L850.2 801.6L850.4 802.2L850.7 798.0L850.9 798.6L851.1 798.8L851.4 798.3L851.6 795.7L851.9 791.1L852.2 792.0L852.4 791.9L852.7 792.4L852.9 794.4L853.2 789.6L853.4 790.4L853.7 790.2L853.9 786.9L854.2 786.4L854.4 785.7L854.7 784.7L854.9 784.7L855.2 782.0L855.4 778.7L855.7 778.5L855.9 779.9L856.2 779.1L856.4 777.9L856.7 777.1L856.9 777.4L857.2 772.4L857.4 773.5L857.7 771.3L857.9 769.2L858.2 767.8L858.4 768.1L858.7 767.1L859.0 770.8L859.2 771.5L859.5 773.0L859.7 776.4L860.0 778.5L860.2 778.8L860.5 779.7L860.8 780.9L861.0 781.7L861.3 782.6L861.5 779.7L861.8 783.0L862.1 786.4L862.3 784.3L862.6 786.5L862.8 783.3L863.1 781.1L863.3 780.3L863.6 777.7L863.8 776.8L864.1 774.3L864.3 771.3L864.6 770.4L864.8 766.0L865.1 763.9L865.3 761.9L865.6 760.3L865.8 761.0L866.1 758.4L866.3 757.9L866.6 755.7L866.8 756.3L867.0 754.8L867.3 751.7L867.5 752.0L867.8 751.4L868.0 751.6L868.2 751.9L868.5 749.3L868.7 751.3L869.0 753.3L869.2 756.0L869.5 758.5L869.7 759.5L870.0 759.3L870.2 760.5L870.5 764.5L870.7 763.6L871.0 765.4L871.2 763.3L871.5 764.4L871.7 763.7L872.0 761.4L872.2 763.5L872.5 760.5L872.7 759.1L873.0 756.1L873.2 753.4L873.5 751.9L873.7 749.6L874.0 745.9L874.2 743.8L874.5 745.1L874.7 741.6L875.0 742.0L875.2 738.2L875.5 742.4L875.7 743.8L876.0 746.1L876.2 747.7L876.5 750.1L876.7 753.6L877.0 758.4L877.2 755.8L877.5 754.0L877.7 750.7L878.0 747.9L878.2 744.6L878.5 746.6L878.7 743.6L879.0 743.4L879.3 740.8L879.5 740.9L879.8 743.2L880.0 743.5L880.3 746.8L880.5 747.8L880.8 752.6L881.0 754.8L881.2 752.4L881.5 747.9L881.7 742.0L882.0 743.0L882.2 738.1L882.4 740.0L882.7 736.5L882.9 733.8L883.2 730.3L883.4 729.8L883.6 726.7L883.9 727.3L884.1 724.4L884.4 720.5L884.6 722.9L884.9 723.3L885.1 720.5L885.4 722.4L885.7 721.8L885.9 723.2L886.2 724.2L886.4 722.9L886.7 721.4L886.9 721.5L887.2 723.2L887.4 722.0L887.6 716.0L887.9 716.8L888.1 717.2L888.4 714.7L888.6 709.0L888.8 705.1L889.1 706.8L889.3 703.5L889.6 699.5L889.8 696.9L890.0 700.8L890.3 700.3L890.5 706.6L890.8 707.4L891.0 708.2L891.3 711.8L891.5 712.7L891.8 707.6L892.1 705.9L892.3 700.0L892.6 695.6L892.8 690.6L893.1 686.4L893.3 684.1L893.6 684.0L893.8 675.8L894.1 678.9L894.3 680.0L894.6 675.4L894.8 680.4L895.1 678.1L895.3 675.7L895.6 678.9L895.8 684.7L896.1 687.9L896.3 686.6L896.6 687.8L896.8 693.4L897.1 699.1L897.3 703.1L897.6 707.3L897.8 710.1L898.1 712.7L898.3 719.2L898.6 723.3L898.8 724.2L899.1 724.9L899.3 726.5L899.6 730.1L899.8 735.5L900.1 732.0L900.3 727.7L900.6 729.6L900.8 728.3L901.1 727.3L901.3 726.1L901.6 723.0L901.8 718.6L902.1 716.2L902.3 718.4L902.6 713.5L902.8 712.8L903.0 716.9L903.3 718.7L903.5 715.8L903.8 717.5L904.0 717.1L904.2 715.4L904.5 717.2L904.7 719.7L905.0 716.1L905.2 717.1L905.5 712.2L905.7 705.6L906.0 706.1L906.2 704.9L906.4 700.7L906.7 701.3L906.9 698.2L907.2 696.5L907.4 697.7L907.7 694.3L907.9 695.0L908.2 690.8L908.4 690.8L908.7 687.1L908.9 691.5L909.1 685.9L909.4 683.0L909.6 682.8L909.9 687.7L910.1 691.4L910.4 691.4L910.6 694.7L910.9 700.8L911.1 701.9L911.4 707.4L911.7 707.1L911.9 705.1L912.2 702.4L912.5 699.7L912.7 692.9L913.0 694.6L913.2 691.6L913.5 688.1L913.7 684.6L914.0 686.3L914.2 685.7L914.5 684.4L914.7 683.1L914.9 680.7L915.2 679.3L915.4 677.4L915.7 680.4L915.9 676.5L916.1 672.3L916.4 673.2L916.6 673.2L916.9 676.5L917.1 674.9L917.3 675.9L917.6 677.6L917.8 678.8L918.1 680.2L918.3 679.3L918.5 678.0L918.8 679.3L919.0 680.0L919.3 675.9L919.5 674.2L919.8 674.8L920.0 672.8L920.3 672.0L920.5 668.8L920.8 673.8L921.0 673.9L921.3 678.8L921.5 681.7L921.8 683.5L922.0 687.1L922.3 694.2L922.5 685.1L922.8 681.1L923.0 675.5L923.3 671.4L923.5 665.6L923.8 657.3L924.0 651.2L924.3 651.5L924.5 650.1L924.8 647.8L925.0 650.1L925.2 650.9L925.5 651.2L925.7 654.6L926.0 654.6L926.2 654.8L926.4 654.0L926.7 653.0L926.9 648.5L927.2 644.9L927.4 642.8L927.6 641.5L927.9 640.8L928.1 641.4L928.4 635.3L928.6 630.4L928.8 632.5L929.1 628.8L929.3 630.1L929.6 633.9L929.8 635.6L930.1 639.2L930.3 640.5L930.6 644.8L930.8 652.5L931.1 653.0L931.3 649.2L931.5 647.1L931.8 642.3L932.0 638.7L932.3 638.4L932.5 635.0L932.7 634.5L933.0 629.9L933.2 626.4L933.5 623.6L933.7 623.1L933.9 624.9L934.2 628.2L934.4 630.0L934.7 627.1L934.9 627.9L935.1 631.3L935.4 632.1L935.6 634.2L935.9 632.4L936.1 631.1L936.3 631.9L936.6 631.7L936.8 620.7L937.1 619.6L937.3 614.7L937.5 613.4L937.8 616.5L938.0 615.5L938.3 614.8L938.5 607.4L938.7 610.9L939.0 605.5L939.2 603.8L939.5 600.9L939.7 599.8L940.0 592.9L940.2 587.9L940.5 588.2L940.8 586.5L941.0 581.1L941.3 577.4L941.5 576.7L941.8 581.1L942.0 585.7L942.3 587.0L942.6 589.1L942.8 598.2L943.1 598.2L943.4 602.0L943.6 598.5L943.9 595.5L944.2 591.2L944.4 584.4L944.7 585.5L944.9 586.0L945.2 579.3L945.5 576.5L945.7 582.5L945.9 591.4L946.2 595.8L946.4 598.5L946.6 602.4L946.9 610.8L947.1 607.6L947.4 606.6L947.6 603.1L947.8 595.8L948.1 593.6L948.3 592.0L948.6 584.8L948.8 581.0L949.0 579.0L949.3 578.3L949.5 577.4L949.8 581.1L950.0 578.3L950.2 578.1L950.5 580.8L950.7 580.5L951.0 577.6L951.2 581.1L951.4 580.1L951.7 574.8L951.9 576.8L952.1 575.7L952.4 573.0L952.6 576.6L952.9 573.4L953.1 575.2L953.3 574.3L953.6 569.9L953.8 571.3L954.1 568.2L954.3 563.6L954.5 563.6L954.8 561.6L955.0 554.8L955.3 549.7L955.5 547.4L955.7 547.7L956.0 543.9L956.2 544.9L956.5 548.9L956.7 548.0L957.0 549.0L957.2 554.6L957.5 560.8L957.8 564.5L958.0 563.2L958.3 563.4L958.5 568.7L958.8 576.7L959.0 584.7L959.3 589.6L959.5 588.4L959.7 591.6L960.0 598.1L960.2 604.5L960.5 605.6L960.7 612.0L960.9 621.3L961.2 619.4L961.4 613.7L961.7 609.8L961.9 601.8L962.1 597.4L962.4 596.7L962.6 593.6L962.8 590.5L963.1 587.7L963.3 582.6L963.6 580.9L963.8 590.0L964.1 600.8L964.3 612.8L964.6 622.7L964.8 632.4L965.1 643.6L965.3 658.2L965.6 653.6L965.8 654.2L966.0 653.1L966.3 650.6L966.5 648.2L966.8 644.6L967.0 641.2L967.2 636.2L967.5 635.1L967.7 632.6L968.0 628.4L968.2 622.9L968.5 623.8L968.7 621.9L969.0 617.0L969.2 615.2L969.5 610.8L969.7 607.3L970.0 610.0L970.2 609.4L970.4 617.9L970.7 617.4L970.9 615.4L971.2 617.9L971.4 615.8L971.6 620.6L971.9 621.2L972.1 622.5L972.3 621.3L972.6 620.4L972.8 616.6L973.1 612.5L973.3 611.5L973.5 610.4L973.8 609.4L974.0 610.9L974.3 607.2L974.5 608.6L974.7 608.7L975.0 607.3L975.2 601.2L975.5 600.8L975.8 600.3L976.0 601.6L976.3 608.1L976.6 611.3L976.8 614.5L977.1 622.5L977.3 634.0L977.6 641.2L977.9 652.0L978.1 664.1L978.4 667.7L978.6 665.5L978.9 671.8L979.2 672.4L979.4 675.8L979.7 674.5L979.9 679.7L980.2 683.1L980.5 692.4L980.7 696.8L981.0 705.2L981.2 705.7L981.5 701.1L981.8 697.1L982.0 688.4L982.3 690.6L982.5 689.7L982.8 684.9L983.1 679.7L983.3 678.1L983.6 678.5L983.8 675.6L984.1 678.7L984.4 681.2L984.6 678.2L984.9 679.7L985.2 683.7L985.4 687.6L985.7 693.0L986.0 696.3L986.2 702.6L986.5 699.2L986.8 694.7L987.0 691.3L987.3 680.9L987.5 682.1L987.8 676.6L988.0 673.3L988.3 668.0L988.5 662.0L988.8 661.0L989.1 660.9L989.3 660.9L989.6 662.3L989.8 661.9L990.1 663.5L990.4 660.5L990.6 659.9L990.9 662.8L991.1 665.4L991.4 673.4L991.6 678.0L991.9 680.3L992.1 685.8L992.4 686.6L992.7 691.2L992.9 697.4L993.1 694.4L993.4 692.9L993.6 692.4L993.9 690.2L994.1 686.8L994.4 682.2L994.6 680.7L994.8 679.3L995.1 672.2L995.3 671.0L995.6 664.2L995.8 662.0L996.1 663.6L996.3 666.7L996.5 670.7L996.8 676.5L997.0 680.0L997.3 685.8L997.5 690.7L997.8 693.8L998.0 696.0L998.2 701.1L998.5 703.9L998.7 707.8L999.0 702.4L999.2 696.8L999.5 691.9L999.8 686.7L1000.0 685.0L1000.3 681.7L1000.5 682.2L1000.8 684.8L1001.0 679.7L1001.3 673.8L1001.5 671.2L1001.8 668.6L1002.1 661.2L1002.3 657.0L1002.6 656.6L1002.8 650.8L1003.1 649.5L1003.4 651.5L1003.6 648.9L1003.9 651.3L1004.1 653.8L1004.4 652.2L1004.7 654.6L1004.9 650.6L1005.2 651.6L1005.4 657.2L1005.7 655.4L1006.0 660.3L1006.2 659.3L1006.5 660.6L1006.8 663.4L1007.0 664.4L1007.3 662.7L1007.5 668.3L1007.8 669.3L1008.1 663.7L1008.3 659.3L1008.6 655.6L1008.8 655.9L1009.1 651.5L1009.4 647.4L1009.6 647.8L1009.9 648.1L1010.1 652.1L1010.4 651.7L1010.7 654.8L1010.9 656.0L1011.2 663.0L1011.4 663.1L1011.7 668.8L1012.0 671.8L1012.2 676.9L1012.5 682.7L1012.7 685.6L1013.0 687.0L1013.3 693.3L1013.5 696.2L1013.8 698.0L1014.0 702.6L1014.3 698.4L1014.6 690.6L1014.8 684.0L1015.1 674.6L1015.3 670.8L1015.6 667.9L1015.9 660.1L1016.1 654.7L1016.4 657.4L1016.6 659.7L1016.9 661.3L1017.2 663.4L1017.4 669.9L1017.7 671.8L1017.9 671.0L1018.2 678.7L1018.5 681.4L1018.7 679.7L1019.0 682.2L1019.2 682.0L1019.5 683.2L1019.8 679.2L1020.0 682.5L1020.3 681.1L1020.5 683.6L1020.8 681.9L1021.1 686.3L1021.3 682.8L1021.6 681.8L1021.8 675.2L1022.1 674.7L1022.4 667.5L1022.6 665.1L1022.9 662.0L1023.1 660.4L1023.4 659.0L1023.7 664.1L1023.9 668.0L1024.2 670.4L1024.4 668.5L1024.7 674.1L1025.0 677.6L1025.2 673.3L1025.5 670.7L1025.7 668.9L1026.0 665.2L1026.3 666.7L1026.5 666.7L1026.8 657.2L1027.1 653.7L1027.3 656.5L1027.6 652.0L1027.8 651.6L1028.1 651.0L1028.4 652.9L1028.6 651.3L1028.9 651.7L1029.1 653.4L1029.4 650.3L1029.7 645.4L1029.9 652.8L1030.2 652.3L1030.4 653.8L1030.7 654.5L1031.0 654.1L1031.2 656.0L1031.5 658.3L1031.7 659.9L1032.0 656.9L1032.2 658.0L1032.5 655.2L1032.7 655.1L1033.0 649.3L1033.2 650.8L1033.5 654.2L1033.7 651.3L1034.0 651.0L1034.2 650.1L1034.4 648.8L1034.7 647.2L1034.9 650.8L1035.2 650.6L1035.4 649.4L1035.7 652.8L1035.9 652.3L1036.2 648.4L1036.4 648.5L1036.7 647.3L1036.9 648.8L1037.1 648.2L1037.4 649.3L1037.6 653.2L1037.9 652.9L1038.1 652.9L1038.4 659.3L1038.6 662.5L1038.8 658.2L1039.1 661.0L1039.3 662.4L1039.6 659.2L1039.8 662.4L1040.1 663.1L1040.3 661.4L1040.6 655.9L1040.8 655.5L1041.1 653.8L1041.4 648.0L1041.6 641.2L1041.9 637.0L1042.1 631.1L1042.4 630.0L1042.7 626.6L1042.9 623.9L1043.2 624.1L1043.4 621.9L1043.6 621.8L1043.9 620.4L1044.1 622.9L1044.4 624.1L1044.6 624.5L1044.9 622.6L1045.1 623.7L1045.3 622.3L1045.6 620.5L1045.8 618.1L1046.1 620.0L1046.3 618.3L1046.6 623.5L1046.8 618.7L1047.1 622.9L1047.4 624.6L1047.6 629.6L1047.9 627.5L1048.1 632.1L1048.4 631.0L1048.7 637.4L1048.9 637.6L1049.2 637.0L1049.4 642.2L1049.7 638.9L1050.0 635.7L1050.2 630.0L1050.5 622.6L1050.7 617.3L1051.0 614.5L1051.3 612.6L1051.5 610.0L1051.8 607.1L1052.0 608.5L1052.2 609.9L1052.5 610.6L1052.7 607.8L1053.0 607.7L1053.2 605.6L1053.5 602.2L1053.7 600.6L1053.9 607.6L1054.2 605.8L1054.4 603.9L1054.7 608.9L1054.9 607.8L1055.2 604.8L1055.4 606.1L1055.7 604.5L1055.9 606.2L1056.2 610.6L1056.5 607.8L1056.7 605.5L1057.0 609.1L1057.2 608.9L1057.5 611.4L1057.8 612.8L1058.0 614.0L1058.3 620.1L1058.5 622.4L1058.8 622.6L1059.1 626.9L1059.3 627.0L1059.6 630.2L1059.8 632.6L1060.1 638.4L1060.4 641.2L1060.6 639.8L1060.9 643.7L1061.1 643.8L1061.4 641.5L1061.7 637.4L1061.9 635.3L1062.2 639.4L1062.4 633.9L1062.7 633.4L1063.0 632.2L1063.2 633.4L1063.5 631.8L1063.7 627.1L1064.0 629.1L1064.3 628.1L1064.5 623.2L1064.8 624.0L1065.0 624.8L1065.3 619.1L1065.6 623.4L1065.8 620.4L1066.1 616.9L1066.3 621.0L1066.6 620.4L1066.9 616.5L1067.1 616.7L1067.4 614.9L1067.7 612.2L1067.9 607.7L1068.2 605.5L1068.4 605.0L1068.7 602.0L1069.0 601.8L1069.2 594.3L1069.5 591.7L1069.7 589.1L1070.0 599.2L1070.3 614.9L1070.5 622.5L1070.8 630.8L1071.0 624.7L1071.3 622.6L1071.5 624.2L1071.8 620.9L1072.0 622.2L1072.2 618.5L1072.5 619.6L1072.7 617.6L1073.0 615.3L1073.2 611.1L1073.5 608.1L1073.7 607.5L1074.0 608.7L1074.2 610.0L1074.4 606.5L1074.7 604.9L1074.9 600.6L1075.2 605.1L1075.5 605.8L1075.7 610.5L1076.0 611.4L1076.2 614.9L1076.5 619.1L1076.8 620.8L1077.0 622.3L1077.3 626.2L1077.5 633.3L1077.8 638.4L1078.1 643.3L1078.3 645.2L1078.6 644.9L1078.8 642.4L1079.1 641.4L1079.4 636.7L1079.6 636.6L1079.9 633.7L1080.1 632.3L1080.4 628.4L1080.7 631.0L1080.9 627.3L1081.2 626.6L1081.4 626.7L1081.7 626.3L1082.0 626.4L1082.2 626.6L1082.5 627.3L1082.7 624.2L1083.0 625.8L1083.3 623.6L1083.5 624.4L1083.8 625.8L1084.0 624.8L1084.3 623.5L1084.5 621.1L1084.8 619.3L1085.0 617.1L1085.3 614.1L1085.5 612.5L1085.8 606.0L1086.0 608.4L1086.2 603.1L1086.5 604.7L1086.7 603.8L1087.0 604.5L1087.2 604.9L1087.5 606.0L1087.7 604.5L1088.0 603.7L1088.2 608.2L1088.5 611.3L1088.7 612.8L1089.0 615.3L1089.3 616.1L1089.5 622.5L1089.8 615.1L1090.0 608.1L1090.3 600.6L1090.6 593.3L1090.8 591.8L1091.1 586.0L1091.3 588.4L1091.6 592.5L1091.9 593.9L1092.1 595.4L1092.4 597.3L1092.6 601.6L1092.9 601.7L1093.2 601.5L1093.4 595.1L1093.7 589.1L1093.9 588.6L1094.2 587.4L1094.5 584.2L1094.7 581.4L1095.0 582.9L1095.2 583.6L1095.5 577.8L1095.8 576.7L1096.0 580.6L1096.3 580.7L1096.5 580.3L1096.8 583.7L1097.1 584.2L1097.3 587.0L1097.6 585.0L1097.8 592.7L1098.1 591.0L1098.4 595.4L1098.6 592.1L1098.9 591.6L1099.1 586.8L1099.4 583.3L1099.7 579.5L1099.9 578.2L1100.2 581.7L1100.4 583.5L1100.7 590.5L1101.0 594.7L1101.2 598.5L1101.5 601.6L1101.7 602.2L1102.0 606.7L1102.3 605.5L1102.5 609.1L1102.8 610.6L1103.0 611.2L1103.3 611.0L1103.6 614.4L1103.8 617.0L1104.1 618.3L1104.3 622.0L1104.6 625.4L1104.9 630.7L1105.1 635.3L1105.4 640.3L1105.6 640.2L1105.9 638.6L1106.2 632.1L1106.4 633.2L1106.7 631.6L1106.9 623.1L1107.2 619.6L1107.5 616.0L1107.7 614.1L1108.0 623.3L1108.3 628.2L1108.5 636.8L1108.8 641.4L1109.0 651.7L1109.3 654.6L1109.6 658.4L1109.8 664.9L1110.1 672.3L1110.3 679.7L1110.6 673.3L1110.9 666.9L1111.1 658.6L1111.4 649.9L1111.6 642.5L1111.9 634.7L1112.2 624.1L1112.4 617.3L1112.7 616.4L1112.9 618.1L1113.2 618.6L1113.5 622.4L1113.7 620.2L1114.0 613.5L1114.2 615.2L1114.5 615.3L1114.8 615.1L1115.0 615.2L1115.3 615.4L1115.5 614.4L1115.8 610.9L1116.1 610.4L1116.3 614.1L1116.6 611.6L1116.8 603.5L1117.1 605.2L1117.4 605.2L1117.6 602.2L1117.9 599.5L1118.1 599.6L1118.4 605.9L1118.7 609.2L1118.9 615.0L1119.2 614.3L1119.4 616.6L1119.7 614.9L1120.0 619.7L1120.2 619.3L1120.5 618.4L1120.7 614.3L1121.0 608.4L1121.3 607.9L1121.5 609.4L1121.8 605.9L1122.0 604.7L1122.3 601.8L1122.6 601.4L1122.8 599.6L1123.1 604.5L1123.3 603.8L1123.6 606.5L1123.9 612.9L1124.1 617.6L1124.4 619.5L1124.6 625.4L1124.9 631.8L1125.2 627.2L1125.4 621.1L1125.7 623.4L1125.9 619.3L1126.2 619.2L1126.5 620.9L1126.7 620.0L1127.0 619.3L1127.2 624.1L1127.5 622.1L1127.8 623.9L1128.0 629.4L1128.3 636.8L1128.5 639.8L1128.8 643.0L1129.1 643.5L1129.3 646.6L1129.6 647.4L1129.8 646.2L1130.1 641.8L1130.3 640.1L1130.6 641.4L1130.8 637.6L1131.1 635.9L1131.3 635.4L1131.6 631.4L1131.8 630.2L1132.0 626.5L1132.3 626.1L1132.5 625.1L1132.8 619.9L1133.0 619.3L1133.3 614.0L1133.5 612.6L1133.8 613.1L1134.0 613.2L1134.2 613.9L1134.5 611.2L1134.7 615.8L1135.0 614.8L1135.2 619.2L1135.5 621.3L1135.7 623.5L1135.9 623.0L1136.2 626.4L1136.4 627.0L1136.7 624.5L1136.9 627.8L1137.2 629.5L1137.4 632.9L1137.6 634.3L1137.9 633.2L1138.1 633.6L1138.4 633.1L1138.6 632.8L1138.9 638.1L1139.1 632.2L1139.4 634.4L1139.6 635.6L1139.8 631.4L1140.1 631.5L1140.3 635.4L1140.6 630.5L1140.8 632.8L1141.1 632.7L1141.3 635.9L1141.6 632.9L1141.8 633.8L1142.1 637.2L1142.3 637.0L1142.6 637.0L1142.9 639.5L1143.1 646.0L1143.4 649.1L1143.6 652.0L1143.9 650.6L1144.2 651.2L1144.4 651.8L1144.7 655.8L1144.9 655.1L1145.1 654.9L1145.3 650.9L1145.6 648.8L1145.8 644.8L1146.1 644.5L1146.3 644.1L1146.6 638.7L1146.8 636.4L1147.0 641.5L1147.3 632.3L1147.5 630.7L1147.8 630.4L1148.0 624.9L1148.3 629.4L1148.5 624.3L1148.7 618.5L1149.0 618.2L1149.2 614.7L1149.5 611.6L1149.8 606.1L1150.0 604.2L1150.3 600.7L1150.5 597.9L1150.8 595.7L1151.0 593.0L1151.3 589.4L1151.5 583.8L1151.8 582.7L1152.0 581.5L1152.3 582.5L1152.5 578.8L1152.7 576.9L1153.0 577.1L1153.2 574.6L1153.5 575.5L1153.7 572.7L1154.0 568.2L1154.2 571.2L1154.4 572.6L1154.7 576.8L1154.9 573.0L1155.2 575.1L1155.5 575.9L1155.7 577.1L1156.0 580.7L1156.2 583.9L1156.5 580.8L1156.8 589.4L1157.0 589.1L1157.3 587.3L1157.5 584.3L1157.8 579.0L1158.1 577.5L1158.3 577.7L1158.6 577.5L1158.8 583.0L1159.1 588.6L1159.3 592.0L1159.5 596.6L1159.8 597.9L1160.0 603.0L1160.3 603.3L1160.5 599.4L1160.8 599.7L1161.0 596.3L1161.2 592.9L1161.5 589.1L1161.7 581.0L1162.0 577.6L1162.2 573.9L1162.5 577.3L1162.7 580.3L1163.0 584.6L1163.3 585.7L1163.5 589.8L1163.8 589.7L1164.1 596.8L1164.3 594.8L1164.6 600.3L1164.8 616.9L1165.0 632.6L1165.3 650.2L1165.5 664.0L1165.8 661.1L1166.0 654.3L1166.3 649.4L1166.5 642.2L1166.8 634.4L1167.1 635.6L1167.3 627.6L1167.6 618.6L1167.8 616.7L1168.1 609.0L1168.4 601.3L1168.6 597.0L1168.9 590.9L1169.2 581.4L1169.4 580.8L1169.7 573.0L1169.9 572.3L1170.1 568.5L1170.4 565.0L1170.6 568.2L1170.9 565.5L1171.1 562.7L1171.3 562.1L1171.6 558.6L1171.8 553.6L1172.0 550.4L1172.3 542.3L1172.5 544.6L1172.8 540.2L1173.0 539.7L1173.3 546.1L1173.6 546.0L1173.8 546.1L1174.1 549.0L1174.3 548.7L1174.6 549.3L1174.8 553.5L1175.1 549.8L1175.3 550.5L1175.6 555.0L1175.8 561.3L1176.1 560.2L1176.3 552.5L1176.6 544.2L1176.8 538.7L1177.1 534.4L1177.3 527.5L1177.6 523.9L1177.8 523.3L1178.1 526.0L1178.4 523.7L1178.6 523.2L1178.9 526.1L1179.1 523.8L1179.4 521.0L1179.7 518.7L1179.9 515.7L1180.2 513.5L1180.4 509.0L1180.7 510.3L1181.0 503.8L1181.2 506.5L1181.5 512.0L1181.7 516.6L1182.0 520.7L1182.3 524.6L1182.5 530.4L1182.8 534.7L1183.0 540.5L1183.3 541.7L1183.6 538.5L1183.8 541.5L1184.1 542.0L1184.4 542.2L1184.6 547.5L1184.9 549.0L1185.1 553.5L1185.4 553.7L1185.7 552.2L1185.9 554.9L1186.2 556.8L1186.5 558.4L1186.7 560.2L1187.0 560.2L1187.2 556.4L1187.5 558.2L1187.7 555.8L1187.9 550.3L1188.2 549.6L1188.4 547.9L1188.7 543.6L1188.9 537.7L1189.2 532.9L1189.4 532.2L1189.6 529.6L1189.9 525.2L1190.1 520.7L1190.4 519.9L1190.6 517.4L1190.9 513.5L1191.1 512.2L1191.3 507.4L1191.6 509.5L1191.9 516.0L1192.1 524.4L1192.4 532.2L1192.6 537.3L1192.9 545.0L1193.2 551.1L1193.4 545.9L1193.7 541.0L1193.9 539.1L1194.1 534.0L1194.4 528.5L1194.6 523.8L1194.9 522.4L1195.1 522.8L1195.4 519.9L1195.6 517.5L1195.8 514.0L1196.1 515.2L1196.3 514.4L1196.6 510.0L1196.8 507.4L1197.1 502.5L1197.3 500.6L1197.6 500.2L1197.9 496.4L1198.1 492.2L1198.4 490.8L1198.6 485.6L1198.9 482.8L1199.1 480.0L1199.4 481.7L1199.6 475.1L1199.9 475.3L1200.1 472.7L1200.4 466.9L1200.6 467.4L1200.9 467.2L1201.1 466.6L1201.4 467.3L1201.6 469.2L1201.9 460.9L1202.1 461.2L1202.4 468.8L1202.6 462.7L1202.9 465.1L1203.1 463.0L1203.4 460.1L1203.6 458.8L1203.9 452.7L1204.1 447.3L1204.4 441.5L1204.6 437.8L1204.9 430.4L1205.1 434.9L1205.4 429.4L1205.7 425.4L1205.9 418.2L1206.2 425.1L1206.4 428.1L1206.7 433.6L1207.0 439.5L1207.2 440.7L1207.5 441.3L1207.8 450.5L1208.0 455.6L1208.3 460.1L1208.5 468.8L1208.8 473.7L1209.0 483.6L1209.3 490.2L1209.6 498.3L1209.8 491.7L1210.1 484.9L1210.3 476.4L1210.6 471.7L1210.9 467.9L1211.1 466.1L1211.4 465.5L1211.6 473.1L1211.9 478.1L1212.1 485.0L1212.3 490.4L1212.6 496.8L1212.8 498.3L1213.1 495.6L1213.3 490.9L1213.6 487.4L1213.8 483.8L1214.0 473.2L1214.3 468.8L1214.5 466.2L1214.8 464.4L1215.0 463.7L1215.3 468.1L1215.5 471.7L1215.8 474.7L1216.1 476.4L1216.3 482.5L1216.6 488.3L1216.9 489.6L1217.1 492.9L1217.4 500.1L1217.6 501.2L1217.9 500.8L1218.1 493.8L1218.4 490.7L1218.6 488.5L1218.9 489.1L1219.1 480.1L1219.4 481.6L1219.6 478.9L1219.9 477.5L1220.1 476.5L1220.4 476.8L1220.6 466.9L1220.9 462.8L1221.2 453.5L1221.4 447.6L1221.7 446.7L1221.9 447.3L1222.2 451.0L1222.4 450.5L1222.7 449.8L1222.9 450.5L1223.2 458.2L1223.4 457.5L1223.6 459.1L1223.9 460.4L1224.1 463.7L1224.4 456.5L1224.6 449.0L1224.9 445.9L1225.1 440.6L1225.3 438.8L1225.6 440.1L1225.8 438.9L1226.1 436.8L1226.3 436.0L1226.6 434.2L1226.8 432.2L1227.1 427.8L1227.3 424.7L1227.6 420.9L1227.8 421.0L1228.1 414.8L1228.3 413.7L1228.6 416.9L1228.8 426.2L1229.1 428.9L1229.4 431.8L1229.6 436.2L1229.9 443.0L1230.1 445.5L1230.4 435.2L1230.6 428.5L1230.8 424.9L1231.0 416.4L1231.3 417.3L1231.5 419.3L1231.8 419.5L1232.0 419.9L1232.3 423.0L1232.5 428.4L1232.7 429.3L1233.0 426.9L1233.2 425.5L1233.5 431.4L1233.8 436.4L1234.0 442.6L1234.3 447.0L1234.5 452.4L1234.8 454.6L1235.1 463.8L1235.3 468.4L1235.6 474.7L1235.8 469.7L1236.1 465.0L1236.3 457.3L1236.6 456.3L1236.8 456.6L1237.1 458.3L1237.3 457.3L1237.6 457.3L1237.8 451.2L1238.1 445.0L1238.3 441.9L1238.6 445.4L1238.8 449.4L1239.1 458.5L1239.4 459.7L1239.6 461.6L1239.9 472.2L1240.1 476.5L1240.4 474.3L1240.6 472.8L1240.9 475.9L1241.1 477.3L1241.4 475.3L1241.6 474.8L1241.9 477.2L1242.1 476.5L1242.4 477.5L1242.6 480.4L1242.9 478.3L1243.2 493.0L1243.4 507.4L1243.7 503.5L1243.9 501.8L1244.2 498.9L1244.4 495.1L1244.6 494.3L1244.9 492.3L1245.1 485.7L1245.4 479.6L1245.6 480.1L1245.9 488.7L1246.1 491.4L1246.3 495.8L1246.6 498.6L1246.8 502.7L1247.1 506.2L1247.3 515.5L1247.6 517.4L1247.8 519.9L1248.0 521.1L1248.3 523.6L1248.5 528.3L1248.8 538.0L1249.0 542.1L1249.2 545.7L1249.5 543.1L1249.8 543.3L1250.0 541.7L1250.3 540.6L1250.6 539.5L1250.8 535.2L1251.1 534.7L1251.3 540.5L1251.6 542.4L1251.8 546.3L1252.1 545.9L1252.3 550.6L1252.6 558.3L1252.8 563.5L1253.1 568.4L1253.3 570.5L1253.6 574.5L1253.8 576.6L1254.1 574.7L1254.3 573.4L1254.5 568.7L1254.8 561.1L1255.0 556.9L1255.3 553.3L1255.5 547.4L1255.8 545.3L1256.0 536.1L1256.3 533.2L1256.5 529.3L1256.8 530.4L1257.0 537.0L1257.3 539.9L1257.5 540.1L1257.8 540.8L1258.0 543.3L1258.3 541.1L1258.5 540.5L1258.8 544.0L1259.0 544.5L1259.3 545.7L1259.5 553.7L1259.8 567.9L1260.1 572.3L1260.3 579.4L1260.6 592.6L1260.8 597.2L1261.1 609.6L1261.4 614.6L1261.6 622.1L1261.9 621.7L1262.2 623.0L1262.5 618.4L1262.7 610.6L1263.0 603.7L1263.2 594.9L1263.5 592.1L1263.7 582.2L1264.0 582.9L1264.2 585.0L1264.5 579.4L1264.8 584.0L1265.0 586.0L1265.3 590.8L1265.6 595.8L1265.9 609.7L1266.2 623.0L1266.4 617.6L1266.7 606.7L1266.9 594.3L1267.2 584.5L1267.4 577.3L1267.7 571.2L1267.9 571.1L1268.2 567.1L1268.5 571.0L1268.7 565.0L1269.0 560.1L1269.3 557.5L1269.5 558.5L1269.8 560.7L1270.0 562.4L1270.3 564.4L1270.5 562.6L1270.8 565.5L1271.0 571.2L1271.2 569.9L1271.5 573.2L1271.7 576.0L1272.0 570.6L1272.3 565.4L1272.5 556.0L1272.8 550.6L1273.1 542.9L1273.3 537.2L1273.6 532.8L1273.9 540.0L1274.1 545.6L1274.4 554.4L1274.7 556.2L1274.9 563.2L1275.2 567.9L1275.4 573.6L1275.7 570.5L1276.0 565.2L1276.2 562.0L1276.5 556.5L1276.8 554.1L1277.0 553.2L1277.3 552.6L1277.5 560.1L1277.8 570.1L1278.0 575.5L1278.3 585.6L1278.5 592.4L1278.8 597.7L1279.0 593.4L1279.3 583.9L1279.6 577.6L1279.9 573.1L1280.1 564.4L1280.4 561.2L1280.7 563.2L1280.9 569.2L1281.2 567.1L1281.4 572.4L1281.7 577.6L1282.0 580.7L1282.2 581.0L1282.5 572.3L1282.7 567.6L1283.0 562.3L1283.2 552.6L1283.5 547.6L1283.7 543.2L1284.0 544.4L1284.2 536.9L1284.5 533.4L1284.7 534.0L1285.0 532.1L1285.2 526.6L1285.5 524.1L1285.8 524.7L1286.0 525.9L1286.3 522.8L1286.6 520.4L1286.8 522.0L1287.1 526.5L1287.3 525.9L1287.6 532.8L1287.8 531.2L1288.0 532.8L1288.3 534.3L1288.5 535.8L1288.8 538.0L1289.0 536.5L1289.3 537.8L1289.5 540.0L1289.8 545.1L1290.0 546.3L1290.3 548.9L1290.5 542.9L1290.8 540.0L1291.1 540.6L1291.3 537.0L1291.6 529.0L1291.9 529.0L1292.1 526.6L1292.4 523.2L1292.7 522.8L1292.9 525.0L1293.2 523.8L1293.5 523.6L1293.7 527.1L1294.0 524.1L1294.2 521.0L1294.5 523.3L1294.8 526.3L1295.0 528.4L1295.3 532.9L1295.6 532.3L1295.8 540.2L1296.1 541.1L1296.4 542.1L1296.6 542.2L1296.9 543.3L1297.2 550.9L1297.4 549.6L1297.7 547.6L1297.9 554.6L1298.2 559.6L1298.4 563.6L1298.7 564.4L1298.9 572.3L1299.2 569.0L1299.5 567.7L1299.7 560.7L1300.0 557.5L1300.2 551.1L1300.5 548.7L1300.8 546.4L1301.0 545.7L1301.3 544.8L1301.5 546.8L1301.8 546.1L1302.0 544.7L1302.3 545.2L1302.5 542.7L1302.8 541.7L1303.0 540.5L1303.2 541.6L1303.5 539.5L1303.7 539.1L1304.0 538.9L1304.2 534.3L1304.5 534.0L1304.7 537.1L1305.0 542.0L1305.2 541.4L1305.5 540.9L1305.7 540.3L1306.0 541.0L1306.2 540.0L1306.5 540.4L1306.7 539.5L1307.0 540.2L1307.2 543.8L1307.5 546.9L1307.7 544.6L1308.0 546.4L1308.3 552.6L1308.5 555.1L1308.8 556.3L1309.1 550.3L1309.3 546.4L1309.6 549.9L1309.9 546.3L1310.1 545.2L1310.4 542.2L1310.7 537.7L1310.9 541.7L1311.2 542.2L1311.4 546.4L1311.6 551.2L1311.9 551.1L1312.1 556.6L1312.4 560.8L1312.6 558.7L1312.9 562.7L1313.1 562.4L1313.4 560.1L1313.6 562.2L1313.9 562.3L1314.1 556.8L1314.4 555.8L1314.6 548.4L1314.9 547.7L1315.1 546.8L1315.4 547.5L1315.6 545.1L1315.9 548.7L1316.1 544.1L1316.3 550.0L1316.6 547.8L1316.8 551.4L1317.1 552.7L1317.3 551.6L1317.6 553.5L1317.8 553.5L1318.1 556.3L1318.3 557.3L1318.6 554.6L1318.8 558.6L1319.1 556.9L1319.3 555.4L1319.6 556.0L1319.8 554.2L1320.1 555.2L1320.3 549.1L1320.5 546.4L1320.8 547.3L1321.0 549.5L1321.3 553.1L1321.5 554.5L1321.8 561.6L1322.0 559.1L1322.3 560.6L1322.5 563.1L1322.8 562.2L1323.0 561.2L1323.3 560.0L1323.5 564.5L1323.8 564.2L1324.0 570.0L1324.3 568.0L1324.5 574.1L1324.8 572.1L1325.1 573.8L1325.3 579.9L1325.6 582.3L1325.8 580.2L1326.1 584.0L1326.3 587.6L1326.6 594.4L1326.8 592.8L1327.1 593.4L1327.3 597.0L1327.6 593.9L1327.8 594.6L1328.1 597.9L1328.3 597.4L1328.6 590.7L1328.8 586.0L1329.1 587.2L1329.3 579.3L1329.6 579.2L1329.8 584.8L1330.1 584.2L1330.3 581.8L1330.6 579.5L1330.8 577.1L1331.0 579.7L1331.3 573.7L1331.6 570.6L1331.8 568.4L1332.1 567.5L1332.3 564.3L1332.6 557.8L1332.9 552.3L1333.1 547.6L1333.4 548.1L1333.6 543.5L1333.9 538.4L1334.1 534.0L1334.4 527.6L1334.8 521.7L1335.0 519.5L1335.3 517.6L1335.6 513.2L1335.8 509.8L1336.1 512.3L1336.3 508.7L1336.6 508.1L1336.9 508.9L1337.1 512.8L1337.4 513.0L1337.6 519.3L1337.8 517.0L1338.1 516.9L1338.3 513.5L1338.6 516.4L1338.8 514.3L1339.1 519.2L1339.3 522.5L1339.6 525.0L1339.9 520.9L1340.1 528.7L1340.4 529.0L1340.7 531.9L1340.9 530.3L1341.2 528.2L1341.5 521.8L1341.7 515.0L1342.0 513.1L1342.3 510.3L1342.5 504.2L1342.8 501.9L1343.0 498.8L1343.3 503.1L1343.5 505.3L1343.8 509.0L1344.0 508.9L1344.3 510.2L1344.5 515.7L1344.8 515.0L1345.0 516.6L1345.3 519.2L1345.5 521.2L1345.8 525.6L1346.0 526.8L1346.2 532.6L1346.5 530.6L1346.7 534.5L1347.0 539.6L1347.2 540.3L1347.5 544.0L1347.7 543.0L1348.0 547.8L1348.2 547.9L1348.5 556.9L1348.7 554.0L1349.0 555.0L1349.2 554.5L1349.5 549.3L1349.7 540.2L1350.0 538.0L1350.2 533.9L1350.4 535.0L1350.7 529.3L1350.9 525.4L1351.2 527.4L1351.4 522.9L1351.7 523.2L1351.9 519.7L1352.2 517.6L1352.4 513.1L1352.7 511.7L1352.9 509.8L1353.2 510.6L1353.4 509.3L1353.7 507.9L1353.9 509.3L1354.2 511.3L1354.4 514.1L1354.6 515.4L1354.9 518.3L1355.1 517.2L1355.4 514.8L1355.6 514.8L1355.9 518.5L1356.1 518.0L1356.4 516.7L1356.6 514.4L1356.9 513.4L1357.1 510.3L1357.4 507.2L1357.6 498.2L1357.9 495.7L1358.1 493.5L1358.4 490.0L1358.7 484.7L1358.9 480.9L1359.2 475.0L1359.5 471.0L1359.7 471.8L1360.0 475.1L1360.2 479.4L1360.5 478.8L1360.8 484.7L1361.0 485.4L1361.3 486.5L1361.5 492.3L1361.8 496.7L1362.0 497.0L1362.3 502.7L1362.6 505.6L1362.8 499.9L1363.1 494.4L1363.4 493.4L1363.6 489.3L1363.9 486.3L1364.1 480.4L1364.4 472.2L1364.7 476.0L1364.9 479.1L1365.2 481.1L1365.4 478.5L1365.7 482.0L1366.0 482.0L1366.2 485.4L1366.5 486.4L1366.7 490.2L1367.0 488.9L1367.2 490.8L1367.5 490.8L1367.7 487.4L1368.0 482.0L1368.2 475.9L1368.5 474.4L1368.7 471.0L1369.0 472.7L1369.2 475.0L1369.5 474.0L1369.7 474.1L1370.0 478.5L1370.2 485.5L1370.5 486.6L1370.7 487.7L1371.0 492.3L1371.2 492.0L1371.5 487.9L1371.7 484.9L1371.9 480.6L1372.2 479.7L1372.4 477.3L1372.7 479.0L1372.9 478.6L1373.2 474.9L1373.4 476.5L1373.7 471.6L1373.9 474.6L1374.2 475.0L1374.5 481.2L1374.7 484.1L1375.0 487.7L1375.3 494.2L1375.5 495.7L1375.8 495.0L1376.1 497.3L1376.3 497.6L1376.6 498.1L1376.9 501.7L1377.1 500.7L1377.4 501.9L1377.6 501.9L1377.9 501.8L1378.1 505.8L1378.4 508.7L1378.6 511.8L1378.9 511.3L1379.1 517.2L1379.4 513.9L1379.6 518.7L1379.9 522.9L1380.1 523.6L1380.4 524.4L1380.6 529.4L1380.8 531.2L1381.1 532.0L1381.3 532.7L1381.6 534.9L1381.8 535.8L1382.1 536.0L1382.3 534.0L1382.6 531.4L1382.8 525.1L1383.1 521.2L1383.3 518.2L1383.6 516.7L1383.8 512.6L1384.1 509.4L1384.3 504.3L1384.6 500.4L1384.8 495.7L1385.0 497.8L1385.3 499.5L1385.5 498.6L1385.8 505.7L1386.0 499.4L1386.3 503.2L1386.5 502.7L1386.8 503.9L1387.0 511.2L1387.3 511.8L1387.5 514.7L1387.8 517.0L1388.0 517.5L1388.3 517.4L1388.5 518.0L1388.8 522.1L1389.0 521.5L1389.2 523.4L1389.5 517.6L1389.7 523.0L1390.0 523.5L1390.2 527.9L1390.5 525.4L1390.7 526.1L1391.0 525.4" fill="none" stroke="#1b76bb" stroke-width="2.4" stroke-linejoin="round"/>
<g stroke="#1b76bb" stroke-width="4.6" fill="none" stroke-linecap="butt" stroke-linejoin="miter"><line x1="1337.5" y1="340.6" x2="1424" y2="286"/><polyline points="1388,277 1425.5,285.3 1416.6,321.7"/></g>
</svg>
<div class="t" style="left:84.7px;top:69.1px;font-size:41.60px;font-weight:bold;font-style:normal;color:#343b3b;letter-spacing:0.000px;-webkit-text-stroke:0.9px #343b3b;transform:scaleX(1.0863);transform-origin:left">Le performance del biotech sono strettamente collegate</div>
<div class="t" style="left:86.9px;top:123.9px;font-size:41.60px;font-weight:bold;font-style:normal;color:#343b3b;letter-spacing:0.000px;-webkit-text-stroke:0.9px #343b3b;transform:scaleX(1.0686);transform-origin:left">alla crescita dei ricavi: un futuro solido in vista.</div>
<div class="t" style="right:420.5px;top:267.6px;font-size:22.40px;font-weight:normal;font-style:normal;color:#3a3a3a;letter-spacing:0.000px;transform:scaleX(1.0287);transform-origin:right">Portfolio Revenue</div>
<div class="t" style="right:420.5px;top:292.3px;font-size:22.40px;font-weight:normal;font-style:normal;color:#3a3a3a;letter-spacing:0.000px;transform:scaleX(0.9598);transform-origin:right">15% CAGR* until 2028</div>
<div class="t" style="left:148.0px;top:1170.3px;font-size:28.40px;font-weight:normal;font-style:normal;color:#555555;letter-spacing:0.000px;transform:scaleX(1.1353);transform-origin:left">Product Revenue</div>
<div class="t" style="left:149.0px;top:1223.9px;font-size:28.40px;font-weight:normal;font-style:normal;color:#555555;letter-spacing:0.000px;transform:scaleX(1.1589);transform-origin:left">NBI (Nasdaq biotechnology index)</div>
<div class="t" style="left:83.3px;top:1336.3px;font-size:27.50px;font-weight:normal;font-style:italic;color:#959595;letter-spacing:0.000px;transform:scaleX(1.1054);transform-origin:left">Past performance is no guarantee of future results and is not constant over time.</div>
<div class="t" style="left:83.3px;top:1374.7px;font-size:27.00px;font-weight:bold;font-style:normal;color:#7d7d7d;letter-spacing:0.000px;transform:scaleX(1.0726);transform-origin:left">Source : Candriam, Bloomberg</div>
<div class="t" style="left:82.2px;top:1436.0px;font-size:27.30px;font-weight:normal;font-style:italic;color:#959595;letter-spacing:-0.000px;transform:scaleX(1.1233);transform-origin:left">*Compound annual growth rate of the aggregated revenue of all underlying stocks in the portfolio</div>
<div class="mk" style="left:103.2px;top:1180px;width:24.6px;background:#16295c"></div>
<div style="position:absolute;left:1728px;top:1536px;width:22px;height:1px;background:#707070"></div>
<div class="mk" style="left:104.2px;top:1233px;width:24.2px;background:#1b76bb"></div>
</body></html>
